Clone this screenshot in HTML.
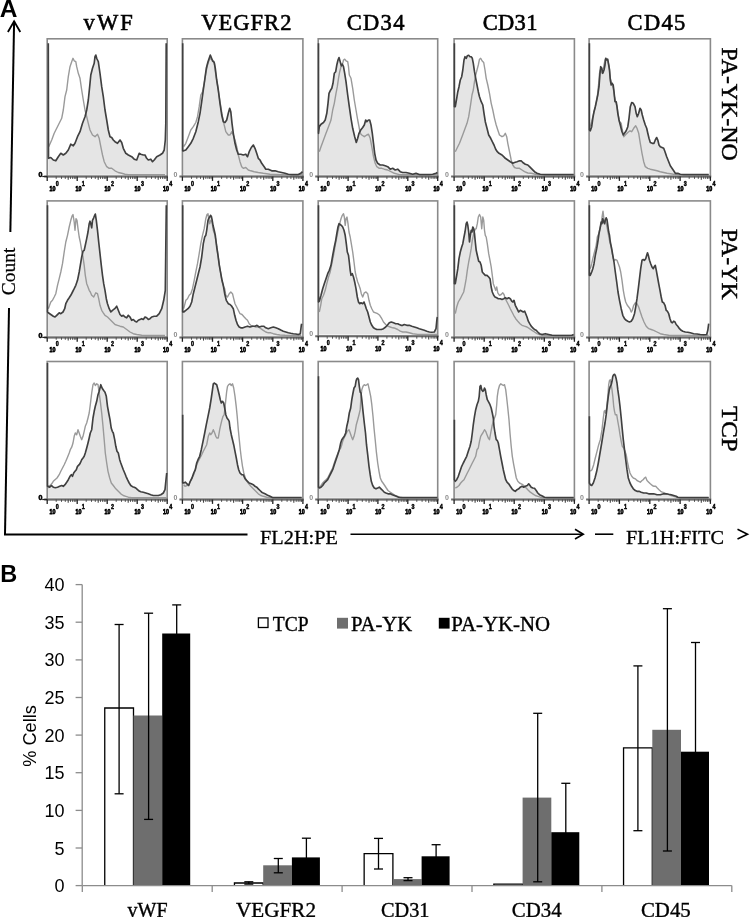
<!DOCTYPE html><html><head><meta charset="utf-8"><style>html,body{margin:0;padding:0;background:#fff;}svg{display:block;filter:grayscale(1);}.ser{font-family:"Liberation Serif",serif;}.san{font-family:"Liberation Sans",sans-serif;}.mon{font-family:"Liberation Mono",monospace;}</style></head><body>
<svg width="750" height="917" viewBox="0 0 750 917">
<text class="san" x="-0.2" y="16.7" font-size="24.5" font-weight="bold" fill="#000">A</text>
<line x1="14.1" y1="21" x2="10.36" y2="232" stroke="#000" stroke-width="2"/>
<line x1="9.01" y1="308" x2="5" y2="534.5" stroke="#000" stroke-width="2"/>
<polyline points="7.9,32 14.1,21.2 20.3,32" fill="none" stroke="#000" stroke-width="1.8"/>
<text class="ser" transform="translate(15.3,271.5) rotate(-90)" text-anchor="middle" font-size="19.5" fill="#000" stroke="#000" stroke-width="0.25">Count</text>
<line x1="4" y1="534.5" x2="247.5" y2="534.5" stroke="#000" stroke-width="2"/>
<text class="ser" x="260" y="543.8" font-size="19.5" fill="#000" stroke="#000" stroke-width="0.3" textLength="78" lengthAdjust="spacingAndGlyphs">FL2H:PE</text>
<line x1="350.5" y1="534.2" x2="583" y2="534.2" stroke="#000" stroke-width="1.6"/>
<polyline points="575,529.3 583.3,534.2 575,539" fill="none" stroke="#000" stroke-width="1.6"/>
<line x1="595" y1="534.2" x2="613.3" y2="534.2" stroke="#000" stroke-width="1.6"/>
<text class="ser" x="626" y="543.8" font-size="19.5" fill="#000" stroke="#000" stroke-width="0.3" textLength="98" lengthAdjust="spacingAndGlyphs">FL1H:FITC</text>
<polyline points="737.5,529.3 747.5,534.2 737.5,539" fill="none" stroke="#000" stroke-width="1.6"/>
<text class="ser" x="83.6" y="29.8" font-size="22.5" fill="#000" stroke="#000" stroke-width="0.6" textLength="49.2" lengthAdjust="spacing">vWF</text>
<text class="ser" x="201.2" y="29.8" font-size="22.5" fill="#000" stroke="#000" stroke-width="0.6" textLength="90.2" lengthAdjust="spacing">VEGFR2</text>
<text class="ser" x="346.8" y="29.8" font-size="22.5" fill="#000" stroke="#000" stroke-width="0.6" textLength="57.6" lengthAdjust="spacing">CD34</text>
<text class="ser" x="482.7" y="29.8" font-size="22.5" fill="#000" stroke="#000" stroke-width="0.6" textLength="54.7" lengthAdjust="spacing">CD31</text>
<text class="ser" x="627.6" y="29.8" font-size="22.5" fill="#000" stroke="#000" stroke-width="0.6" textLength="57.6" lengthAdjust="spacing">CD45</text>
<text class="ser" transform="translate(721.5,104.1) rotate(90)" text-anchor="middle" font-size="23.5" fill="#000" stroke="#000" stroke-width="0.45" textLength="113.0" lengthAdjust="spacingAndGlyphs">PA-YK-NO</text>
<text class="ser" transform="translate(721.5,264.2) rotate(90)" text-anchor="middle" font-size="23.5" fill="#000" stroke="#000" stroke-width="0.45" textLength="70.9" lengthAdjust="spacingAndGlyphs">PA-YK</text>
<text class="ser" transform="translate(721.5,428.8) rotate(90)" text-anchor="middle" font-size="23.5" fill="#000" stroke="#000" stroke-width="0.45" textLength="45.6" lengthAdjust="spacingAndGlyphs">TCP</text>
<polygon points="48.3,174.8 48.3,43.3 48.5,158.3 50.8,157.5 53.3,160.0 55.8,160.8 58.3,156.7 60.8,153.3 63.3,155.0 65.8,153.3 68.3,150.0 70.8,144.2 73.3,145.8 75.0,143.3 77.5,136.7 80.0,131.7 82.5,123.3 85.0,116.7 86.7,110.0 88.3,100.0 90.0,83.3 90.8,75.0 92.5,68.3 94.2,63.3 95.0,56.7 95.8,55.0 96.7,58.3 97.5,60.0 98.3,61.7 100.0,73.3 101.7,86.7 103.3,96.7 105.0,110.0 106.7,120.0 108.3,130.0 110.0,136.7 111.7,137.5 113.3,140.0 115.0,141.7 117.5,143.3 120.0,140.0 121.7,142.5 123.3,148.3 125.8,153.3 128.3,155.0 131.7,156.7 134.2,159.2 136.7,160.0 139.2,153.3 140.8,154.2 143.3,155.0 145.0,155.0 146.7,158.3 148.3,160.0 150.8,159.2 152.5,161.7 154.2,160.0 156.7,156.7 160.0,155.0 162.5,153.3 164.2,150.0 165.3,140.0 165.8,123.3 166.2,43.3 166.2,174.8" fill="#e5e5e5"/>
<rect x="47.2" y="38.8" width="120.0" height="137.7" fill="none" stroke="#8a8a8a" stroke-width="1.6"/>
<polyline points="48.7,146.7 51.7,140.0 54.2,133.3 56.7,128.3 59.2,123.3 61.7,118.3 63.3,110.0 65.0,96.7 66.7,90.0 68.3,76.7 70.0,66.7 71.7,61.7 73.0,58.3 74.2,60.8 75.8,61.7 76.7,66.7 78.3,73.3 80.0,78.3 81.7,90.0 83.3,100.0 85.0,110.0 86.7,116.7 88.3,123.3 90.0,130.0 92.5,135.0 95.0,136.7 97.5,134.2 99.2,138.3 100.8,146.7 102.5,155.0 104.2,161.7 106.7,166.7 109.2,168.3 111.7,168.3 115.0,170.8 118.3,172.5 121.7,173.3 125.0,174.2 128.3,174.6 131.7,174.6 138.3,174.6 148.3,174.6 165.0,174.6" fill="none" stroke="#9a9a9a" stroke-width="1.4" stroke-linejoin="round"/>
<polyline points="48.3,43.3 48.5,158.3 50.8,157.5 53.3,160.0 55.8,160.8 58.3,156.7 60.8,153.3 63.3,155.0 65.8,153.3 68.3,150.0 70.8,144.2 73.3,145.8 75.0,143.3 77.5,136.7 80.0,131.7 82.5,123.3 85.0,116.7 86.7,110.0 88.3,100.0 90.0,83.3 90.8,75.0 92.5,68.3 94.2,63.3 95.0,56.7 95.8,55.0 96.7,58.3 97.5,60.0 98.3,61.7 100.0,73.3 101.7,86.7 103.3,96.7 105.0,110.0 106.7,120.0 108.3,130.0 110.0,136.7 111.7,137.5 113.3,140.0 115.0,141.7 117.5,143.3 120.0,140.0 121.7,142.5 123.3,148.3 125.8,153.3 128.3,155.0 131.7,156.7 134.2,159.2 136.7,160.0 139.2,153.3 140.8,154.2 143.3,155.0 145.0,155.0 146.7,158.3 148.3,160.0 150.8,159.2 152.5,161.7 154.2,160.0 156.7,156.7 160.0,155.0 162.5,153.3 164.2,150.0 165.3,140.0 165.8,123.3 166.2,43.3" fill="none" stroke="#404040" stroke-width="1.65" stroke-linejoin="round"/>
<line x1="44.2" y1="176.5" x2="168.0" y2="176.5" stroke="#6a6a6a" stroke-width="2"/>
<line x1="47.2" y1="176.5" x2="47.2" y2="180.9" stroke="#222" stroke-width="1.3"/>
<line x1="56.2" y1="176.5" x2="56.2" y2="178.9" stroke="#444" stroke-width="0.9"/>
<line x1="61.5" y1="176.5" x2="61.5" y2="178.9" stroke="#444" stroke-width="0.9"/>
<line x1="65.3" y1="176.5" x2="65.3" y2="178.9" stroke="#444" stroke-width="0.9"/>
<line x1="68.2" y1="176.5" x2="68.2" y2="179.7" stroke="#444" stroke-width="1.1"/>
<line x1="70.5" y1="176.5" x2="70.5" y2="178.9" stroke="#444" stroke-width="0.9"/>
<line x1="72.6" y1="176.5" x2="72.6" y2="178.9" stroke="#444" stroke-width="0.9"/>
<line x1="74.3" y1="176.5" x2="74.3" y2="178.9" stroke="#444" stroke-width="0.9"/>
<line x1="75.8" y1="176.5" x2="75.8" y2="178.9" stroke="#444" stroke-width="0.9"/>
<line x1="77.2" y1="176.5" x2="77.2" y2="180.9" stroke="#222" stroke-width="1.3"/>
<line x1="86.2" y1="176.5" x2="86.2" y2="178.9" stroke="#444" stroke-width="0.9"/>
<line x1="91.5" y1="176.5" x2="91.5" y2="178.9" stroke="#444" stroke-width="0.9"/>
<line x1="95.3" y1="176.5" x2="95.3" y2="178.9" stroke="#444" stroke-width="0.9"/>
<line x1="98.2" y1="176.5" x2="98.2" y2="179.7" stroke="#444" stroke-width="1.1"/>
<line x1="100.5" y1="176.5" x2="100.5" y2="178.9" stroke="#444" stroke-width="0.9"/>
<line x1="102.6" y1="176.5" x2="102.6" y2="178.9" stroke="#444" stroke-width="0.9"/>
<line x1="104.3" y1="176.5" x2="104.3" y2="178.9" stroke="#444" stroke-width="0.9"/>
<line x1="105.8" y1="176.5" x2="105.8" y2="178.9" stroke="#444" stroke-width="0.9"/>
<line x1="107.2" y1="176.5" x2="107.2" y2="180.9" stroke="#222" stroke-width="1.3"/>
<line x1="116.2" y1="176.5" x2="116.2" y2="178.9" stroke="#444" stroke-width="0.9"/>
<line x1="121.5" y1="176.5" x2="121.5" y2="178.9" stroke="#444" stroke-width="0.9"/>
<line x1="125.3" y1="176.5" x2="125.3" y2="178.9" stroke="#444" stroke-width="0.9"/>
<line x1="128.2" y1="176.5" x2="128.2" y2="179.7" stroke="#444" stroke-width="1.1"/>
<line x1="130.5" y1="176.5" x2="130.5" y2="178.9" stroke="#444" stroke-width="0.9"/>
<line x1="132.6" y1="176.5" x2="132.6" y2="178.9" stroke="#444" stroke-width="0.9"/>
<line x1="134.3" y1="176.5" x2="134.3" y2="178.9" stroke="#444" stroke-width="0.9"/>
<line x1="135.8" y1="176.5" x2="135.8" y2="178.9" stroke="#444" stroke-width="0.9"/>
<line x1="137.2" y1="176.5" x2="137.2" y2="180.9" stroke="#222" stroke-width="1.3"/>
<line x1="146.2" y1="176.5" x2="146.2" y2="178.9" stroke="#444" stroke-width="0.9"/>
<line x1="151.5" y1="176.5" x2="151.5" y2="178.9" stroke="#444" stroke-width="0.9"/>
<line x1="155.3" y1="176.5" x2="155.3" y2="178.9" stroke="#444" stroke-width="0.9"/>
<line x1="158.2" y1="176.5" x2="158.2" y2="179.7" stroke="#444" stroke-width="1.1"/>
<line x1="160.5" y1="176.5" x2="160.5" y2="178.9" stroke="#444" stroke-width="0.9"/>
<line x1="162.6" y1="176.5" x2="162.6" y2="178.9" stroke="#444" stroke-width="0.9"/>
<line x1="164.3" y1="176.5" x2="164.3" y2="178.9" stroke="#444" stroke-width="0.9"/>
<line x1="165.8" y1="176.5" x2="165.8" y2="178.9" stroke="#444" stroke-width="0.9"/>
<line x1="167.2" y1="176.5" x2="167.2" y2="180.9" stroke="#222" stroke-width="1.3"/>
<text class="san" x="49.4" y="190.7" font-size="7.6" font-weight="bold" fill="#000" stroke="#000" stroke-width="0.75" textLength="6.0" lengthAdjust="spacingAndGlyphs">10</text>
<text class="san" x="55.7" y="185.5" font-size="6.8" font-weight="bold" fill="#000" stroke="#000" stroke-width="0.5" textLength="3.0" lengthAdjust="spacingAndGlyphs">0</text>
<text class="san" x="75.4" y="190.7" font-size="7.6" font-weight="bold" fill="#000" stroke="#000" stroke-width="0.75" textLength="6.0" lengthAdjust="spacingAndGlyphs">10</text>
<text class="san" x="81.7" y="185.5" font-size="6.8" font-weight="bold" fill="#000" stroke="#000" stroke-width="0.5" textLength="3.0" lengthAdjust="spacingAndGlyphs">1</text>
<text class="san" x="104.6" y="190.7" font-size="7.6" font-weight="bold" fill="#000" stroke="#000" stroke-width="0.75" textLength="6.0" lengthAdjust="spacingAndGlyphs">10</text>
<text class="san" x="110.9" y="185.5" font-size="6.8" font-weight="bold" fill="#000" stroke="#000" stroke-width="0.5" textLength="3.0" lengthAdjust="spacingAndGlyphs">2</text>
<text class="san" x="134.6" y="190.7" font-size="7.6" font-weight="bold" fill="#000" stroke="#000" stroke-width="0.75" textLength="6.0" lengthAdjust="spacingAndGlyphs">10</text>
<text class="san" x="140.9" y="185.5" font-size="6.8" font-weight="bold" fill="#000" stroke="#000" stroke-width="0.5" textLength="3.0" lengthAdjust="spacingAndGlyphs">3</text>
<text class="san" x="163.0" y="190.7" font-size="7.6" font-weight="bold" fill="#000" stroke="#000" stroke-width="0.75" textLength="6.0" lengthAdjust="spacingAndGlyphs">10</text>
<text class="san" x="169.3" y="185.5" font-size="6.8" font-weight="bold" fill="#000" stroke="#000" stroke-width="0.5" textLength="3.0" lengthAdjust="spacingAndGlyphs">4</text>
<text class="san" x="38.400000000000006" y="176.9" font-size="7" font-weight="bold" fill="#000" stroke="#000" stroke-width="0.6">0</text>
<line x1="42.2" y1="176.5" x2="47.2" y2="176.5" stroke="#222" stroke-width="1.2"/>
<polygon points="182.7,174.8 182.7,43.3 182.7,150.8 183.7,150.8 185.8,150.0 188.3,146.7 190.8,143.3 193.3,138.3 195.8,131.7 198.3,121.7 200.0,113.3 201.7,101.7 203.3,90.0 204.7,80.0 206.3,68.3 208.0,61.7 209.2,58.3 210.3,55.0 211.3,57.5 212.5,60.8 214.2,62.5 215.3,68.3 216.7,80.0 218.3,90.0 220.0,103.3 221.7,115.0 223.3,121.7 225.0,122.5 226.7,120.0 228.3,113.3 229.7,108.3 230.8,111.7 232.0,123.3 233.3,133.3 235.0,143.3 236.7,150.0 238.3,154.2 240.8,154.2 243.3,155.0 245.8,154.2 247.5,156.7 249.2,151.7 251.3,147.5 253.3,145.0 255.0,148.3 256.7,153.3 258.3,158.3 260.0,160.0 261.7,163.3 264.2,166.7 265.8,169.2 268.3,169.2 271.7,170.8 275.0,170.8 278.3,171.7 281.7,172.5 285.0,173.3 288.3,174.2 291.7,174.8 295.0,174.8 298.3,174.8 300.8,173.3 302.5,171.7 302.5,174.8" fill="#e5e5e5"/>
<rect x="182.4" y="38.8" width="120.5" height="137.7" fill="none" stroke="#8a8a8a" stroke-width="1.6"/>
<polyline points="183.7,146.7 185.8,143.3 188.3,136.7 190.8,130.0 193.3,126.7 195.8,122.5 197.5,116.7 199.2,106.7 200.8,95.0 202.5,91.7 204.2,83.3 205.8,73.3 207.5,65.0 209.2,60.0 210.8,58.3 212.5,60.0 214.2,61.7 215.0,68.3 215.8,75.0 217.5,85.0 219.2,96.7 220.8,106.7 222.5,116.7 224.2,125.0 225.8,131.7 228.3,135.0 230.0,135.0 231.7,131.7 233.3,135.0 235.0,140.0 236.7,146.7 238.3,155.0 240.0,161.7 241.7,166.7 243.3,168.3 245.8,167.5 248.3,170.0 250.8,170.8 254.2,171.7 258.3,172.5 263.3,173.3 270.0,174.2 280.0,174.6 290.0,174.6 302.5,174.6" fill="none" stroke="#9a9a9a" stroke-width="1.4" stroke-linejoin="round"/>
<polyline points="182.7,43.3 182.7,150.8 183.7,150.8 185.8,150.0 188.3,146.7 190.8,143.3 193.3,138.3 195.8,131.7 198.3,121.7 200.0,113.3 201.7,101.7 203.3,90.0 204.7,80.0 206.3,68.3 208.0,61.7 209.2,58.3 210.3,55.0 211.3,57.5 212.5,60.8 214.2,62.5 215.3,68.3 216.7,80.0 218.3,90.0 220.0,103.3 221.7,115.0 223.3,121.7 225.0,122.5 226.7,120.0 228.3,113.3 229.7,108.3 230.8,111.7 232.0,123.3 233.3,133.3 235.0,143.3 236.7,150.0 238.3,154.2 240.8,154.2 243.3,155.0 245.8,154.2 247.5,156.7 249.2,151.7 251.3,147.5 253.3,145.0 255.0,148.3 256.7,153.3 258.3,158.3 260.0,160.0 261.7,163.3 264.2,166.7 265.8,169.2 268.3,169.2 271.7,170.8 275.0,170.8 278.3,171.7 281.7,172.5 285.0,173.3 288.3,174.2 291.7,174.6 295.0,174.6 298.3,174.6 300.8,173.3 302.5,171.7" fill="none" stroke="#404040" stroke-width="1.65" stroke-linejoin="round"/>
<line x1="179.4" y1="176.5" x2="303.7" y2="176.5" stroke="#6a6a6a" stroke-width="2"/>
<line x1="182.4" y1="176.5" x2="182.4" y2="180.9" stroke="#222" stroke-width="1.3"/>
<line x1="191.5" y1="176.5" x2="191.5" y2="178.9" stroke="#444" stroke-width="0.9"/>
<line x1="196.8" y1="176.5" x2="196.8" y2="178.9" stroke="#444" stroke-width="0.9"/>
<line x1="200.5" y1="176.5" x2="200.5" y2="178.9" stroke="#444" stroke-width="0.9"/>
<line x1="203.5" y1="176.5" x2="203.5" y2="179.7" stroke="#444" stroke-width="1.1"/>
<line x1="205.8" y1="176.5" x2="205.8" y2="178.9" stroke="#444" stroke-width="0.9"/>
<line x1="207.9" y1="176.5" x2="207.9" y2="178.9" stroke="#444" stroke-width="0.9"/>
<line x1="209.6" y1="176.5" x2="209.6" y2="178.9" stroke="#444" stroke-width="0.9"/>
<line x1="211.1" y1="176.5" x2="211.1" y2="178.9" stroke="#444" stroke-width="0.9"/>
<line x1="212.5" y1="176.5" x2="212.5" y2="180.9" stroke="#222" stroke-width="1.3"/>
<line x1="221.6" y1="176.5" x2="221.6" y2="178.9" stroke="#444" stroke-width="0.9"/>
<line x1="226.9" y1="176.5" x2="226.9" y2="178.9" stroke="#444" stroke-width="0.9"/>
<line x1="230.7" y1="176.5" x2="230.7" y2="178.9" stroke="#444" stroke-width="0.9"/>
<line x1="233.6" y1="176.5" x2="233.6" y2="179.7" stroke="#444" stroke-width="1.1"/>
<line x1="236.0" y1="176.5" x2="236.0" y2="178.9" stroke="#444" stroke-width="0.9"/>
<line x1="238.0" y1="176.5" x2="238.0" y2="178.9" stroke="#444" stroke-width="0.9"/>
<line x1="239.7" y1="176.5" x2="239.7" y2="178.9" stroke="#444" stroke-width="0.9"/>
<line x1="241.3" y1="176.5" x2="241.3" y2="178.9" stroke="#444" stroke-width="0.9"/>
<line x1="242.6" y1="176.5" x2="242.6" y2="180.9" stroke="#222" stroke-width="1.3"/>
<line x1="251.7" y1="176.5" x2="251.7" y2="178.9" stroke="#444" stroke-width="0.9"/>
<line x1="257.0" y1="176.5" x2="257.0" y2="178.9" stroke="#444" stroke-width="0.9"/>
<line x1="260.8" y1="176.5" x2="260.8" y2="178.9" stroke="#444" stroke-width="0.9"/>
<line x1="263.7" y1="176.5" x2="263.7" y2="179.7" stroke="#444" stroke-width="1.1"/>
<line x1="266.1" y1="176.5" x2="266.1" y2="178.9" stroke="#444" stroke-width="0.9"/>
<line x1="268.1" y1="176.5" x2="268.1" y2="178.9" stroke="#444" stroke-width="0.9"/>
<line x1="269.9" y1="176.5" x2="269.9" y2="178.9" stroke="#444" stroke-width="0.9"/>
<line x1="271.4" y1="176.5" x2="271.4" y2="178.9" stroke="#444" stroke-width="0.9"/>
<line x1="272.8" y1="176.5" x2="272.8" y2="180.9" stroke="#222" stroke-width="1.3"/>
<line x1="281.8" y1="176.5" x2="281.8" y2="178.9" stroke="#444" stroke-width="0.9"/>
<line x1="287.1" y1="176.5" x2="287.1" y2="178.9" stroke="#444" stroke-width="0.9"/>
<line x1="290.9" y1="176.5" x2="290.9" y2="178.9" stroke="#444" stroke-width="0.9"/>
<line x1="293.8" y1="176.5" x2="293.8" y2="179.7" stroke="#444" stroke-width="1.1"/>
<line x1="296.2" y1="176.5" x2="296.2" y2="178.9" stroke="#444" stroke-width="0.9"/>
<line x1="298.2" y1="176.5" x2="298.2" y2="178.9" stroke="#444" stroke-width="0.9"/>
<line x1="300.0" y1="176.5" x2="300.0" y2="178.9" stroke="#444" stroke-width="0.9"/>
<line x1="301.5" y1="176.5" x2="301.5" y2="178.9" stroke="#444" stroke-width="0.9"/>
<line x1="302.9" y1="176.5" x2="302.9" y2="180.9" stroke="#222" stroke-width="1.3"/>
<text class="san" x="184.6" y="190.7" font-size="7.6" font-weight="bold" fill="#000" stroke="#000" stroke-width="0.75" textLength="6.0" lengthAdjust="spacingAndGlyphs">10</text>
<text class="san" x="190.9" y="185.5" font-size="6.8" font-weight="bold" fill="#000" stroke="#000" stroke-width="0.5" textLength="3.0" lengthAdjust="spacingAndGlyphs">0</text>
<text class="san" x="210.7" y="190.7" font-size="7.6" font-weight="bold" fill="#000" stroke="#000" stroke-width="0.75" textLength="6.0" lengthAdjust="spacingAndGlyphs">10</text>
<text class="san" x="217.0" y="185.5" font-size="6.8" font-weight="bold" fill="#000" stroke="#000" stroke-width="0.5" textLength="3.0" lengthAdjust="spacingAndGlyphs">1</text>
<text class="san" x="240.0" y="190.7" font-size="7.6" font-weight="bold" fill="#000" stroke="#000" stroke-width="0.75" textLength="6.0" lengthAdjust="spacingAndGlyphs">10</text>
<text class="san" x="246.3" y="185.5" font-size="6.8" font-weight="bold" fill="#000" stroke="#000" stroke-width="0.5" textLength="3.0" lengthAdjust="spacingAndGlyphs">2</text>
<text class="san" x="270.2" y="190.7" font-size="7.6" font-weight="bold" fill="#000" stroke="#000" stroke-width="0.75" textLength="6.0" lengthAdjust="spacingAndGlyphs">10</text>
<text class="san" x="276.5" y="185.5" font-size="6.8" font-weight="bold" fill="#000" stroke="#000" stroke-width="0.5" textLength="3.0" lengthAdjust="spacingAndGlyphs">3</text>
<text class="san" x="298.7" y="190.7" font-size="7.6" font-weight="bold" fill="#000" stroke="#000" stroke-width="0.75" textLength="6.0" lengthAdjust="spacingAndGlyphs">10</text>
<text class="san" x="305.0" y="185.5" font-size="6.8" font-weight="bold" fill="#000" stroke="#000" stroke-width="0.5" textLength="3.0" lengthAdjust="spacingAndGlyphs">4</text>
<text class="san" x="173.4" y="176.5" font-size="7" font-weight="bold" fill="#8c8c8c">0</text>
<polygon points="318.5,174.8 318.5,43.3 318.5,133.3 319.3,126.7 321.0,124.2 323.5,122.5 325.2,120.0 326.8,113.3 328.0,103.3 329.0,93.3 330.2,90.8 331.8,88.3 333.0,83.3 334.3,73.3 335.7,71.7 336.8,65.0 338.0,60.0 339.0,57.5 340.2,61.7 341.3,65.8 342.3,64.2 343.5,66.7 344.7,73.3 346.0,81.7 347.7,95.0 349.3,106.7 351.0,118.3 352.7,128.3 354.7,136.7 356.3,142.5 357.7,138.3 359.0,133.3 360.7,130.0 362.7,127.5 364.3,125.0 365.7,120.0 366.8,121.7 368.5,120.0 369.7,120.0 371.0,125.0 372.3,133.3 373.5,143.3 374.7,153.3 376.0,160.0 377.7,163.3 380.2,165.0 382.7,165.0 385.2,165.8 387.7,166.7 390.2,169.2 392.7,168.3 395.2,170.0 397.7,169.2 400.2,171.7 402.7,172.5 406.0,172.5 409.3,173.3 412.7,174.2 416.0,173.3 419.3,174.7 422.7,174.8 426.0,174.8 429.3,174.7 432.7,174.2 436.0,173.3 437.4,172.5 437.4,174.8" fill="#e5e5e5"/>
<rect x="318.2" y="38.8" width="119.5" height="137.7" fill="none" stroke="#8a8a8a" stroke-width="1.6"/>
<polyline points="319.3,151.7 321.0,146.7 323.5,140.0 326.0,133.3 328.5,126.7 331.0,120.0 332.7,110.0 334.3,103.3 336.0,93.3 337.3,86.7 338.5,78.3 339.7,71.7 341.0,66.7 342.7,63.3 343.5,60.0 344.7,59.2 346.0,60.8 347.7,61.7 348.5,66.7 349.3,75.0 351.0,78.3 352.7,88.3 354.3,100.0 356.0,110.0 357.7,120.0 359.0,126.7 360.2,133.3 361.8,135.0 364.3,136.7 366.8,135.0 368.5,134.2 370.2,138.3 371.8,146.7 373.5,156.7 375.2,163.3 376.8,166.7 379.3,168.3 381.8,168.3 384.3,169.2 387.7,170.0 391.0,171.7 394.3,173.3 399.3,174.6 407.7,174.6 416.0,174.6 424.3,174.6 432.7,174.6 437.4,174.6" fill="none" stroke="#9a9a9a" stroke-width="1.4" stroke-linejoin="round"/>
<polyline points="318.5,43.3 318.5,133.3 319.3,126.7 321.0,124.2 323.5,122.5 325.2,120.0 326.8,113.3 328.0,103.3 329.0,93.3 330.2,90.8 331.8,88.3 333.0,83.3 334.3,73.3 335.7,71.7 336.8,65.0 338.0,60.0 339.0,57.5 340.2,61.7 341.3,65.8 342.3,64.2 343.5,66.7 344.7,73.3 346.0,81.7 347.7,95.0 349.3,106.7 351.0,118.3 352.7,128.3 354.7,136.7 356.3,142.5 357.7,138.3 359.0,133.3 360.7,130.0 362.7,127.5 364.3,125.0 365.7,120.0 366.8,121.7 368.5,120.0 369.7,120.0 371.0,125.0 372.3,133.3 373.5,143.3 374.7,153.3 376.0,160.0 377.7,163.3 380.2,165.0 382.7,165.0 385.2,165.8 387.7,166.7 390.2,169.2 392.7,168.3 395.2,170.0 397.7,169.2 400.2,171.7 402.7,172.5 406.0,172.5 409.3,173.3 412.7,174.2 416.0,173.3 419.3,174.6 422.7,174.6 426.0,174.6 429.3,174.6 432.7,174.2 436.0,173.3 437.4,172.5" fill="none" stroke="#404040" stroke-width="1.65" stroke-linejoin="round"/>
<line x1="315.2" y1="176.5" x2="438.5" y2="176.5" stroke="#6a6a6a" stroke-width="2"/>
<line x1="318.2" y1="176.5" x2="318.2" y2="180.9" stroke="#222" stroke-width="1.3"/>
<line x1="327.2" y1="176.5" x2="327.2" y2="178.9" stroke="#444" stroke-width="0.9"/>
<line x1="332.5" y1="176.5" x2="332.5" y2="178.9" stroke="#444" stroke-width="0.9"/>
<line x1="336.2" y1="176.5" x2="336.2" y2="178.9" stroke="#444" stroke-width="0.9"/>
<line x1="339.1" y1="176.5" x2="339.1" y2="179.7" stroke="#444" stroke-width="1.1"/>
<line x1="341.4" y1="176.5" x2="341.4" y2="178.9" stroke="#444" stroke-width="0.9"/>
<line x1="343.4" y1="176.5" x2="343.4" y2="178.9" stroke="#444" stroke-width="0.9"/>
<line x1="345.2" y1="176.5" x2="345.2" y2="178.9" stroke="#444" stroke-width="0.9"/>
<line x1="346.7" y1="176.5" x2="346.7" y2="178.9" stroke="#444" stroke-width="0.9"/>
<line x1="348.1" y1="176.5" x2="348.1" y2="180.9" stroke="#222" stroke-width="1.3"/>
<line x1="357.1" y1="176.5" x2="357.1" y2="178.9" stroke="#444" stroke-width="0.9"/>
<line x1="362.3" y1="176.5" x2="362.3" y2="178.9" stroke="#444" stroke-width="0.9"/>
<line x1="366.1" y1="176.5" x2="366.1" y2="178.9" stroke="#444" stroke-width="0.9"/>
<line x1="369.0" y1="176.5" x2="369.0" y2="179.7" stroke="#444" stroke-width="1.1"/>
<line x1="371.3" y1="176.5" x2="371.3" y2="178.9" stroke="#444" stroke-width="0.9"/>
<line x1="373.3" y1="176.5" x2="373.3" y2="178.9" stroke="#444" stroke-width="0.9"/>
<line x1="375.1" y1="176.5" x2="375.1" y2="178.9" stroke="#444" stroke-width="0.9"/>
<line x1="376.6" y1="176.5" x2="376.6" y2="178.9" stroke="#444" stroke-width="0.9"/>
<line x1="377.9" y1="176.5" x2="377.9" y2="180.9" stroke="#222" stroke-width="1.3"/>
<line x1="386.9" y1="176.5" x2="386.9" y2="178.9" stroke="#444" stroke-width="0.9"/>
<line x1="392.2" y1="176.5" x2="392.2" y2="178.9" stroke="#444" stroke-width="0.9"/>
<line x1="395.9" y1="176.5" x2="395.9" y2="178.9" stroke="#444" stroke-width="0.9"/>
<line x1="398.8" y1="176.5" x2="398.8" y2="179.7" stroke="#444" stroke-width="1.1"/>
<line x1="401.2" y1="176.5" x2="401.2" y2="178.9" stroke="#444" stroke-width="0.9"/>
<line x1="403.2" y1="176.5" x2="403.2" y2="178.9" stroke="#444" stroke-width="0.9"/>
<line x1="404.9" y1="176.5" x2="404.9" y2="178.9" stroke="#444" stroke-width="0.9"/>
<line x1="406.5" y1="176.5" x2="406.5" y2="178.9" stroke="#444" stroke-width="0.9"/>
<line x1="407.8" y1="176.5" x2="407.8" y2="180.9" stroke="#222" stroke-width="1.3"/>
<line x1="416.8" y1="176.5" x2="416.8" y2="178.9" stroke="#444" stroke-width="0.9"/>
<line x1="422.1" y1="176.5" x2="422.1" y2="178.9" stroke="#444" stroke-width="0.9"/>
<line x1="425.8" y1="176.5" x2="425.8" y2="178.9" stroke="#444" stroke-width="0.9"/>
<line x1="428.7" y1="176.5" x2="428.7" y2="179.7" stroke="#444" stroke-width="1.1"/>
<line x1="431.1" y1="176.5" x2="431.1" y2="178.9" stroke="#444" stroke-width="0.9"/>
<line x1="433.1" y1="176.5" x2="433.1" y2="178.9" stroke="#444" stroke-width="0.9"/>
<line x1="434.8" y1="176.5" x2="434.8" y2="178.9" stroke="#444" stroke-width="0.9"/>
<line x1="436.3" y1="176.5" x2="436.3" y2="178.9" stroke="#444" stroke-width="0.9"/>
<line x1="437.7" y1="176.5" x2="437.7" y2="180.9" stroke="#222" stroke-width="1.3"/>
<text class="san" x="320.4" y="190.7" font-size="7.6" font-weight="bold" fill="#000" stroke="#000" stroke-width="0.75" textLength="6.0" lengthAdjust="spacingAndGlyphs">10</text>
<text class="san" x="326.7" y="185.5" font-size="6.8" font-weight="bold" fill="#000" stroke="#000" stroke-width="0.5" textLength="3.0" lengthAdjust="spacingAndGlyphs">0</text>
<text class="san" x="346.3" y="190.7" font-size="7.6" font-weight="bold" fill="#000" stroke="#000" stroke-width="0.75" textLength="6.0" lengthAdjust="spacingAndGlyphs">10</text>
<text class="san" x="352.6" y="185.5" font-size="6.8" font-weight="bold" fill="#000" stroke="#000" stroke-width="0.5" textLength="3.0" lengthAdjust="spacingAndGlyphs">1</text>
<text class="san" x="375.3" y="190.7" font-size="7.6" font-weight="bold" fill="#000" stroke="#000" stroke-width="0.75" textLength="6.0" lengthAdjust="spacingAndGlyphs">10</text>
<text class="san" x="381.6" y="185.5" font-size="6.8" font-weight="bold" fill="#000" stroke="#000" stroke-width="0.5" textLength="3.0" lengthAdjust="spacingAndGlyphs">2</text>
<text class="san" x="405.2" y="190.7" font-size="7.6" font-weight="bold" fill="#000" stroke="#000" stroke-width="0.75" textLength="6.0" lengthAdjust="spacingAndGlyphs">10</text>
<text class="san" x="411.5" y="185.5" font-size="6.8" font-weight="bold" fill="#000" stroke="#000" stroke-width="0.5" textLength="3.0" lengthAdjust="spacingAndGlyphs">3</text>
<text class="san" x="433.5" y="190.7" font-size="7.6" font-weight="bold" fill="#000" stroke="#000" stroke-width="0.75" textLength="6.0" lengthAdjust="spacingAndGlyphs">10</text>
<text class="san" x="439.8" y="185.5" font-size="6.8" font-weight="bold" fill="#000" stroke="#000" stroke-width="0.5" textLength="3.0" lengthAdjust="spacingAndGlyphs">4</text>
<text class="san" x="309.2" y="176.5" font-size="7" font-weight="bold" fill="#8c8c8c">0</text>
<polygon points="454.4,174.8 454.4,43.3 454.4,106.7 455.3,106.7 456.7,98.3 457.8,91.7 459.0,86.7 460.3,80.0 461.7,76.7 462.8,70.0 464.0,60.0 465.0,56.7 466.2,58.3 467.3,55.8 468.7,55.3 470.0,56.7 471.2,56.7 472.3,58.3 473.3,63.3 474.5,71.7 475.7,78.3 477.0,85.0 478.3,91.7 479.5,96.7 481.2,101.7 482.8,105.0 484.0,113.3 485.3,121.7 487.0,128.3 488.7,135.0 490.7,138.3 492.3,141.7 494.0,145.0 495.7,149.2 497.3,151.7 499.0,153.3 500.7,154.2 502.0,155.0 503.7,156.7 505.3,158.3 507.8,160.0 510.3,161.7 512.8,163.3 514.5,162.5 517.0,161.7 519.5,160.8 521.2,160.8 522.8,162.5 525.3,164.2 527.8,165.0 529.5,166.7 532.0,169.2 534.5,171.7 537.0,173.3 540.3,174.2 545.3,174.8 552.0,174.8 560.3,174.8 568.7,174.8 573.7,174.8 573.7,174.8" fill="#e5e5e5"/>
<rect x="454.1" y="38.8" width="120.3" height="137.7" fill="none" stroke="#8a8a8a" stroke-width="1.6"/>
<polyline points="455.3,151.7 457.0,148.3 459.5,143.3 462.0,136.7 464.5,130.0 467.0,123.3 468.7,116.7 470.3,106.7 472.0,95.0 473.3,90.0 474.5,81.7 475.7,75.0 477.0,70.0 478.3,65.0 479.5,59.2 480.7,58.3 482.0,60.8 483.7,62.5 485.0,70.0 486.2,78.3 487.8,85.0 489.5,93.3 491.2,103.3 492.8,110.0 494.5,118.3 496.2,125.0 497.8,130.0 499.5,135.0 502.0,136.7 503.7,135.8 505.3,133.3 506.7,136.7 507.8,143.3 509.5,151.7 511.2,160.0 512.8,165.0 514.5,167.5 517.0,168.3 519.5,168.3 522.0,170.0 524.5,171.7 527.8,173.0 531.2,173.3 535.3,174.2 540.3,174.6 547.0,174.6 555.3,174.6 565.3,174.6 573.7,174.6" fill="none" stroke="#9a9a9a" stroke-width="1.4" stroke-linejoin="round"/>
<polyline points="454.4,43.3 454.4,106.7 455.3,106.7 456.7,98.3 457.8,91.7 459.0,86.7 460.3,80.0 461.7,76.7 462.8,70.0 464.0,60.0 465.0,56.7 466.2,58.3 467.3,55.8 468.7,55.3 470.0,56.7 471.2,56.7 472.3,58.3 473.3,63.3 474.5,71.7 475.7,78.3 477.0,85.0 478.3,91.7 479.5,96.7 481.2,101.7 482.8,105.0 484.0,113.3 485.3,121.7 487.0,128.3 488.7,135.0 490.7,138.3 492.3,141.7 494.0,145.0 495.7,149.2 497.3,151.7 499.0,153.3 500.7,154.2 502.0,155.0 503.7,156.7 505.3,158.3 507.8,160.0 510.3,161.7 512.8,163.3 514.5,162.5 517.0,161.7 519.5,160.8 521.2,160.8 522.8,162.5 525.3,164.2 527.8,165.0 529.5,166.7 532.0,169.2 534.5,171.7 537.0,173.3 540.3,174.2 545.3,174.6 552.0,174.6 560.3,174.6 568.7,174.6 573.7,174.6" fill="none" stroke="#404040" stroke-width="1.65" stroke-linejoin="round"/>
<line x1="451.1" y1="176.5" x2="575.1999999999999" y2="176.5" stroke="#6a6a6a" stroke-width="2"/>
<line x1="454.1" y1="176.5" x2="454.1" y2="180.9" stroke="#222" stroke-width="1.3"/>
<line x1="463.2" y1="176.5" x2="463.2" y2="178.9" stroke="#444" stroke-width="0.9"/>
<line x1="468.4" y1="176.5" x2="468.4" y2="178.9" stroke="#444" stroke-width="0.9"/>
<line x1="472.2" y1="176.5" x2="472.2" y2="178.9" stroke="#444" stroke-width="0.9"/>
<line x1="475.1" y1="176.5" x2="475.1" y2="179.7" stroke="#444" stroke-width="1.1"/>
<line x1="477.5" y1="176.5" x2="477.5" y2="178.9" stroke="#444" stroke-width="0.9"/>
<line x1="479.5" y1="176.5" x2="479.5" y2="178.9" stroke="#444" stroke-width="0.9"/>
<line x1="481.3" y1="176.5" x2="481.3" y2="178.9" stroke="#444" stroke-width="0.9"/>
<line x1="482.8" y1="176.5" x2="482.8" y2="178.9" stroke="#444" stroke-width="0.9"/>
<line x1="484.2" y1="176.5" x2="484.2" y2="180.9" stroke="#222" stroke-width="1.3"/>
<line x1="493.2" y1="176.5" x2="493.2" y2="178.9" stroke="#444" stroke-width="0.9"/>
<line x1="498.5" y1="176.5" x2="498.5" y2="178.9" stroke="#444" stroke-width="0.9"/>
<line x1="502.3" y1="176.5" x2="502.3" y2="178.9" stroke="#444" stroke-width="0.9"/>
<line x1="505.2" y1="176.5" x2="505.2" y2="179.7" stroke="#444" stroke-width="1.1"/>
<line x1="507.6" y1="176.5" x2="507.6" y2="178.9" stroke="#444" stroke-width="0.9"/>
<line x1="509.6" y1="176.5" x2="509.6" y2="178.9" stroke="#444" stroke-width="0.9"/>
<line x1="511.3" y1="176.5" x2="511.3" y2="178.9" stroke="#444" stroke-width="0.9"/>
<line x1="512.9" y1="176.5" x2="512.9" y2="178.9" stroke="#444" stroke-width="0.9"/>
<line x1="514.2" y1="176.5" x2="514.2" y2="180.9" stroke="#222" stroke-width="1.3"/>
<line x1="523.3" y1="176.5" x2="523.3" y2="178.9" stroke="#444" stroke-width="0.9"/>
<line x1="528.6" y1="176.5" x2="528.6" y2="178.9" stroke="#444" stroke-width="0.9"/>
<line x1="532.4" y1="176.5" x2="532.4" y2="178.9" stroke="#444" stroke-width="0.9"/>
<line x1="535.3" y1="176.5" x2="535.3" y2="179.7" stroke="#444" stroke-width="1.1"/>
<line x1="537.7" y1="176.5" x2="537.7" y2="178.9" stroke="#444" stroke-width="0.9"/>
<line x1="539.7" y1="176.5" x2="539.7" y2="178.9" stroke="#444" stroke-width="0.9"/>
<line x1="541.4" y1="176.5" x2="541.4" y2="178.9" stroke="#444" stroke-width="0.9"/>
<line x1="542.9" y1="176.5" x2="542.9" y2="178.9" stroke="#444" stroke-width="0.9"/>
<line x1="544.3" y1="176.5" x2="544.3" y2="180.9" stroke="#222" stroke-width="1.3"/>
<line x1="553.4" y1="176.5" x2="553.4" y2="178.9" stroke="#444" stroke-width="0.9"/>
<line x1="558.7" y1="176.5" x2="558.7" y2="178.9" stroke="#444" stroke-width="0.9"/>
<line x1="562.4" y1="176.5" x2="562.4" y2="178.9" stroke="#444" stroke-width="0.9"/>
<line x1="565.3" y1="176.5" x2="565.3" y2="179.7" stroke="#444" stroke-width="1.1"/>
<line x1="567.7" y1="176.5" x2="567.7" y2="178.9" stroke="#444" stroke-width="0.9"/>
<line x1="569.7" y1="176.5" x2="569.7" y2="178.9" stroke="#444" stroke-width="0.9"/>
<line x1="571.5" y1="176.5" x2="571.5" y2="178.9" stroke="#444" stroke-width="0.9"/>
<line x1="573.0" y1="176.5" x2="573.0" y2="178.9" stroke="#444" stroke-width="0.9"/>
<line x1="574.4" y1="176.5" x2="574.4" y2="180.9" stroke="#222" stroke-width="1.3"/>
<text class="san" x="456.3" y="190.7" font-size="7.6" font-weight="bold" fill="#000" stroke="#000" stroke-width="0.75" textLength="6.0" lengthAdjust="spacingAndGlyphs">10</text>
<text class="san" x="462.6" y="185.5" font-size="6.8" font-weight="bold" fill="#000" stroke="#000" stroke-width="0.5" textLength="3.0" lengthAdjust="spacingAndGlyphs">0</text>
<text class="san" x="482.4" y="190.7" font-size="7.6" font-weight="bold" fill="#000" stroke="#000" stroke-width="0.75" textLength="6.0" lengthAdjust="spacingAndGlyphs">10</text>
<text class="san" x="488.7" y="185.5" font-size="6.8" font-weight="bold" fill="#000" stroke="#000" stroke-width="0.5" textLength="3.0" lengthAdjust="spacingAndGlyphs">1</text>
<text class="san" x="511.6" y="190.7" font-size="7.6" font-weight="bold" fill="#000" stroke="#000" stroke-width="0.75" textLength="6.0" lengthAdjust="spacingAndGlyphs">10</text>
<text class="san" x="517.9" y="185.5" font-size="6.8" font-weight="bold" fill="#000" stroke="#000" stroke-width="0.5" textLength="3.0" lengthAdjust="spacingAndGlyphs">2</text>
<text class="san" x="541.7" y="190.7" font-size="7.6" font-weight="bold" fill="#000" stroke="#000" stroke-width="0.75" textLength="6.0" lengthAdjust="spacingAndGlyphs">10</text>
<text class="san" x="548.0" y="185.5" font-size="6.8" font-weight="bold" fill="#000" stroke="#000" stroke-width="0.5" textLength="3.0" lengthAdjust="spacingAndGlyphs">3</text>
<text class="san" x="570.2" y="190.7" font-size="7.6" font-weight="bold" fill="#000" stroke="#000" stroke-width="0.75" textLength="6.0" lengthAdjust="spacingAndGlyphs">10</text>
<text class="san" x="576.5" y="185.5" font-size="6.8" font-weight="bold" fill="#000" stroke="#000" stroke-width="0.5" textLength="3.0" lengthAdjust="spacingAndGlyphs">4</text>
<text class="san" x="445.1" y="176.5" font-size="7" font-weight="bold" fill="#8c8c8c">0</text>
<polygon points="589.4,174.8 589.4,43.3 589.4,130.0 590.3,130.8 591.7,126.7 592.8,118.3 594.0,111.7 595.3,106.7 596.7,100.0 597.8,95.0 599.0,86.7 600.0,73.3 600.7,66.7 601.7,68.3 602.8,73.3 604.0,70.0 605.0,65.0 605.7,58.3 606.7,60.0 607.7,59.2 608.7,65.0 609.5,70.0 610.3,80.0 611.2,85.0 612.0,83.3 613.2,85.0 614.0,91.7 615.0,101.7 616.2,101.7 617.0,106.7 617.8,113.3 619.0,120.0 620.3,125.0 622.0,131.7 623.3,135.0 624.5,133.3 626.2,130.8 627.8,126.7 629.0,118.3 630.3,106.7 631.7,102.5 633.3,103.3 635.0,106.7 636.2,113.3 637.3,116.7 638.7,113.3 640.0,108.3 641.2,110.0 642.3,115.0 643.7,120.0 645.3,125.0 646.7,128.3 647.8,133.3 649.0,138.3 650.3,142.5 652.3,143.3 654.0,143.3 655.3,140.0 656.7,137.5 657.8,140.0 659.0,145.0 660.3,146.7 662.0,147.5 663.7,148.3 665.0,151.7 666.7,156.7 668.7,161.7 670.3,165.8 672.0,168.3 673.7,170.8 675.3,173.3 677.8,173.3 680.3,174.2 683.7,174.8 690.3,174.8 700.3,174.8 708.7,174.8 708.7,174.8" fill="#e5e5e5"/>
<rect x="589.1" y="38.8" width="121.3" height="137.7" fill="none" stroke="#8a8a8a" stroke-width="1.6"/>
<polyline points="590.3,126.7 591.7,121.7 592.8,116.7 594.5,110.0 596.2,103.3 597.3,96.7 598.7,83.3 599.5,73.3 600.3,70.0 602.0,73.3 603.7,66.7 605.0,60.0 606.2,58.3 607.8,60.8 609.2,66.7 610.3,78.3 611.7,83.3 613.3,88.3 614.5,96.7 615.7,101.7 617.0,106.7 618.3,115.0 619.5,121.7 621.2,123.3 622.3,130.0 623.7,136.7 625.3,135.0 627.8,132.5 630.0,130.8 631.7,131.7 633.7,128.3 635.7,125.8 637.0,128.3 638.7,133.3 640.3,143.3 642.0,153.3 643.7,161.7 645.3,166.7 647.8,168.3 650.3,169.2 653.7,170.0 657.0,170.8 660.3,171.7 663.7,172.5 667.0,173.3 670.3,173.8 673.7,174.3 680.3,174.6 687.0,174.6 697.0,174.6 708.7,174.6" fill="none" stroke="#9a9a9a" stroke-width="1.4" stroke-linejoin="round"/>
<polyline points="589.4,43.3 589.4,130.0 590.3,130.8 591.7,126.7 592.8,118.3 594.0,111.7 595.3,106.7 596.7,100.0 597.8,95.0 599.0,86.7 600.0,73.3 600.7,66.7 601.7,68.3 602.8,73.3 604.0,70.0 605.0,65.0 605.7,58.3 606.7,60.0 607.7,59.2 608.7,65.0 609.5,70.0 610.3,80.0 611.2,85.0 612.0,83.3 613.2,85.0 614.0,91.7 615.0,101.7 616.2,101.7 617.0,106.7 617.8,113.3 619.0,120.0 620.3,125.0 622.0,131.7 623.3,135.0 624.5,133.3 626.2,130.8 627.8,126.7 629.0,118.3 630.3,106.7 631.7,102.5 633.3,103.3 635.0,106.7 636.2,113.3 637.3,116.7 638.7,113.3 640.0,108.3 641.2,110.0 642.3,115.0 643.7,120.0 645.3,125.0 646.7,128.3 647.8,133.3 649.0,138.3 650.3,142.5 652.3,143.3 654.0,143.3 655.3,140.0 656.7,137.5 657.8,140.0 659.0,145.0 660.3,146.7 662.0,147.5 663.7,148.3 665.0,151.7 666.7,156.7 668.7,161.7 670.3,165.8 672.0,168.3 673.7,170.8 675.3,173.3 677.8,173.3 680.3,174.2 683.7,174.6 690.3,174.6 700.3,174.6 708.7,174.6" fill="none" stroke="#404040" stroke-width="1.65" stroke-linejoin="round"/>
<line x1="586.1" y1="176.5" x2="711.1999999999999" y2="176.5" stroke="#6a6a6a" stroke-width="2"/>
<line x1="589.1" y1="176.5" x2="589.1" y2="180.9" stroke="#222" stroke-width="1.3"/>
<line x1="598.2" y1="176.5" x2="598.2" y2="178.9" stroke="#444" stroke-width="0.9"/>
<line x1="603.6" y1="176.5" x2="603.6" y2="178.9" stroke="#444" stroke-width="0.9"/>
<line x1="607.4" y1="176.5" x2="607.4" y2="178.9" stroke="#444" stroke-width="0.9"/>
<line x1="610.3" y1="176.5" x2="610.3" y2="179.7" stroke="#444" stroke-width="1.1"/>
<line x1="612.7" y1="176.5" x2="612.7" y2="178.9" stroke="#444" stroke-width="0.9"/>
<line x1="614.7" y1="176.5" x2="614.7" y2="178.9" stroke="#444" stroke-width="0.9"/>
<line x1="616.5" y1="176.5" x2="616.5" y2="178.9" stroke="#444" stroke-width="0.9"/>
<line x1="618.0" y1="176.5" x2="618.0" y2="178.9" stroke="#444" stroke-width="0.9"/>
<line x1="619.4" y1="176.5" x2="619.4" y2="180.9" stroke="#222" stroke-width="1.3"/>
<line x1="628.6" y1="176.5" x2="628.6" y2="178.9" stroke="#444" stroke-width="0.9"/>
<line x1="633.9" y1="176.5" x2="633.9" y2="178.9" stroke="#444" stroke-width="0.9"/>
<line x1="637.7" y1="176.5" x2="637.7" y2="178.9" stroke="#444" stroke-width="0.9"/>
<line x1="640.6" y1="176.5" x2="640.6" y2="179.7" stroke="#444" stroke-width="1.1"/>
<line x1="643.0" y1="176.5" x2="643.0" y2="178.9" stroke="#444" stroke-width="0.9"/>
<line x1="645.1" y1="176.5" x2="645.1" y2="178.9" stroke="#444" stroke-width="0.9"/>
<line x1="646.8" y1="176.5" x2="646.8" y2="178.9" stroke="#444" stroke-width="0.9"/>
<line x1="648.4" y1="176.5" x2="648.4" y2="178.9" stroke="#444" stroke-width="0.9"/>
<line x1="649.8" y1="176.5" x2="649.8" y2="180.9" stroke="#222" stroke-width="1.3"/>
<line x1="658.9" y1="176.5" x2="658.9" y2="178.9" stroke="#444" stroke-width="0.9"/>
<line x1="664.2" y1="176.5" x2="664.2" y2="178.9" stroke="#444" stroke-width="0.9"/>
<line x1="668.0" y1="176.5" x2="668.0" y2="178.9" stroke="#444" stroke-width="0.9"/>
<line x1="670.9" y1="176.5" x2="670.9" y2="179.7" stroke="#444" stroke-width="1.1"/>
<line x1="673.3" y1="176.5" x2="673.3" y2="178.9" stroke="#444" stroke-width="0.9"/>
<line x1="675.4" y1="176.5" x2="675.4" y2="178.9" stroke="#444" stroke-width="0.9"/>
<line x1="677.1" y1="176.5" x2="677.1" y2="178.9" stroke="#444" stroke-width="0.9"/>
<line x1="678.7" y1="176.5" x2="678.7" y2="178.9" stroke="#444" stroke-width="0.9"/>
<line x1="680.1" y1="176.5" x2="680.1" y2="180.9" stroke="#222" stroke-width="1.3"/>
<line x1="689.2" y1="176.5" x2="689.2" y2="178.9" stroke="#444" stroke-width="0.9"/>
<line x1="694.5" y1="176.5" x2="694.5" y2="178.9" stroke="#444" stroke-width="0.9"/>
<line x1="698.3" y1="176.5" x2="698.3" y2="178.9" stroke="#444" stroke-width="0.9"/>
<line x1="701.3" y1="176.5" x2="701.3" y2="179.7" stroke="#444" stroke-width="1.1"/>
<line x1="703.7" y1="176.5" x2="703.7" y2="178.9" stroke="#444" stroke-width="0.9"/>
<line x1="705.7" y1="176.5" x2="705.7" y2="178.9" stroke="#444" stroke-width="0.9"/>
<line x1="707.5" y1="176.5" x2="707.5" y2="178.9" stroke="#444" stroke-width="0.9"/>
<line x1="709.0" y1="176.5" x2="709.0" y2="178.9" stroke="#444" stroke-width="0.9"/>
<line x1="710.4" y1="176.5" x2="710.4" y2="180.9" stroke="#222" stroke-width="1.3"/>
<text class="san" x="591.3" y="190.7" font-size="7.6" font-weight="bold" fill="#000" stroke="#000" stroke-width="0.75" textLength="6.0" lengthAdjust="spacingAndGlyphs">10</text>
<text class="san" x="597.6" y="185.5" font-size="6.8" font-weight="bold" fill="#000" stroke="#000" stroke-width="0.5" textLength="3.0" lengthAdjust="spacingAndGlyphs">0</text>
<text class="san" x="617.6" y="190.7" font-size="7.6" font-weight="bold" fill="#000" stroke="#000" stroke-width="0.75" textLength="6.0" lengthAdjust="spacingAndGlyphs">10</text>
<text class="san" x="623.9" y="185.5" font-size="6.8" font-weight="bold" fill="#000" stroke="#000" stroke-width="0.5" textLength="3.0" lengthAdjust="spacingAndGlyphs">1</text>
<text class="san" x="647.1" y="190.7" font-size="7.6" font-weight="bold" fill="#000" stroke="#000" stroke-width="0.75" textLength="6.0" lengthAdjust="spacingAndGlyphs">10</text>
<text class="san" x="653.4" y="185.5" font-size="6.8" font-weight="bold" fill="#000" stroke="#000" stroke-width="0.5" textLength="3.0" lengthAdjust="spacingAndGlyphs">2</text>
<text class="san" x="677.5" y="190.7" font-size="7.6" font-weight="bold" fill="#000" stroke="#000" stroke-width="0.75" textLength="6.0" lengthAdjust="spacingAndGlyphs">10</text>
<text class="san" x="683.8" y="185.5" font-size="6.8" font-weight="bold" fill="#000" stroke="#000" stroke-width="0.5" textLength="3.0" lengthAdjust="spacingAndGlyphs">3</text>
<text class="san" x="706.2" y="190.7" font-size="7.6" font-weight="bold" fill="#000" stroke="#000" stroke-width="0.75" textLength="6.0" lengthAdjust="spacingAndGlyphs">10</text>
<text class="san" x="712.5" y="185.5" font-size="6.8" font-weight="bold" fill="#000" stroke="#000" stroke-width="0.5" textLength="3.0" lengthAdjust="spacingAndGlyphs">4</text>
<text class="san" x="580.1" y="176.5" font-size="7" font-weight="bold" fill="#8c8c8c">0</text>
<polygon points="47.5,335.7 47.5,205.3 47.5,312.0 48.3,312.8 50.8,314.5 53.3,316.2 55.0,317.0 56.7,315.3 59.2,312.8 60.8,313.7 63.0,312.0 64.7,308.7 65.8,303.7 67.5,300.3 69.2,297.8 70.8,295.3 72.5,292.0 74.2,288.7 75.8,285.3 77.5,280.3 79.2,272.0 80.3,265.3 81.7,257.0 83.0,251.2 84.2,250.3 85.3,245.3 86.7,238.7 88.0,232.0 89.2,223.7 90.0,221.2 90.8,223.7 91.7,227.8 92.5,220.3 93.7,217.8 94.7,215.3 95.3,214.0 96.3,220.3 97.5,230.3 98.7,242.0 100.0,253.7 101.3,265.3 102.5,275.3 103.7,283.7 105.0,290.3 106.3,298.7 107.5,303.7 109.2,308.7 110.8,312.0 112.5,310.3 114.7,308.7 116.7,306.2 118.3,310.3 120.0,314.5 121.7,316.2 123.3,315.3 125.0,317.0 126.7,317.8 128.3,315.3 130.0,317.0 131.7,320.3 133.3,319.5 135.0,321.2 136.7,322.0 138.3,320.3 140.0,319.5 141.7,318.7 143.3,319.5 145.0,317.0 146.7,317.8 148.3,319.5 150.0,318.7 151.7,317.0 154.2,316.2 156.7,316.2 159.2,313.7 161.7,308.7 163.7,300.3 165.3,290.3 166.3,205.3 166.3,335.7" fill="#e5e5e5"/>
<rect x="47.2" y="200.9" width="120.0" height="136.5" fill="none" stroke="#8a8a8a" stroke-width="1.6"/>
<polyline points="48.3,308.7 50.8,302.0 52.5,300.3 54.2,297.0 55.8,293.7 57.5,285.3 59.2,278.7 60.8,272.0 62.5,263.7 64.2,252.0 65.8,242.0 67.5,235.3 69.2,227.0 70.8,220.3 72.0,216.2 73.0,214.5 74.2,222.0 75.0,230.3 76.0,218.7 77.0,220.3 78.0,228.7 79.2,237.0 80.3,242.0 81.7,250.3 83.0,257.0 84.2,265.3 85.3,275.3 86.7,283.7 88.0,287.0 89.2,290.3 90.3,292.0 91.7,295.3 93.7,297.0 95.8,292.8 97.5,293.7 98.7,298.7 100.0,305.3 101.7,310.3 103.3,312.8 105.0,315.3 107.5,317.0 110.0,319.5 112.5,322.0 115.0,324.5 117.5,325.3 120.0,326.2 123.3,327.0 126.7,329.5 130.0,332.0 133.3,333.7 136.7,334.5 141.7,335.3 148.3,335.5 156.7,335.5 165.0,335.5" fill="none" stroke="#9a9a9a" stroke-width="1.4" stroke-linejoin="round"/>
<polyline points="47.5,205.3 47.5,312.0 48.3,312.8 50.8,314.5 53.3,316.2 55.0,317.0 56.7,315.3 59.2,312.8 60.8,313.7 63.0,312.0 64.7,308.7 65.8,303.7 67.5,300.3 69.2,297.8 70.8,295.3 72.5,292.0 74.2,288.7 75.8,285.3 77.5,280.3 79.2,272.0 80.3,265.3 81.7,257.0 83.0,251.2 84.2,250.3 85.3,245.3 86.7,238.7 88.0,232.0 89.2,223.7 90.0,221.2 90.8,223.7 91.7,227.8 92.5,220.3 93.7,217.8 94.7,215.3 95.3,214.0 96.3,220.3 97.5,230.3 98.7,242.0 100.0,253.7 101.3,265.3 102.5,275.3 103.7,283.7 105.0,290.3 106.3,298.7 107.5,303.7 109.2,308.7 110.8,312.0 112.5,310.3 114.7,308.7 116.7,306.2 118.3,310.3 120.0,314.5 121.7,316.2 123.3,315.3 125.0,317.0 126.7,317.8 128.3,315.3 130.0,317.0 131.7,320.3 133.3,319.5 135.0,321.2 136.7,322.0 138.3,320.3 140.0,319.5 141.7,318.7 143.3,319.5 145.0,317.0 146.7,317.8 148.3,319.5 150.0,318.7 151.7,317.0 154.2,316.2 156.7,316.2 159.2,313.7 161.7,308.7 163.7,300.3 165.3,290.3 166.3,205.3" fill="none" stroke="#404040" stroke-width="1.65" stroke-linejoin="round"/>
<line x1="44.2" y1="337.4" x2="168.0" y2="337.4" stroke="#6a6a6a" stroke-width="2"/>
<line x1="47.2" y1="337.4" x2="47.2" y2="341.79999999999995" stroke="#222" stroke-width="1.3"/>
<line x1="56.2" y1="337.4" x2="56.2" y2="339.79999999999995" stroke="#444" stroke-width="0.9"/>
<line x1="61.5" y1="337.4" x2="61.5" y2="339.79999999999995" stroke="#444" stroke-width="0.9"/>
<line x1="65.3" y1="337.4" x2="65.3" y2="339.79999999999995" stroke="#444" stroke-width="0.9"/>
<line x1="68.2" y1="337.4" x2="68.2" y2="340.59999999999997" stroke="#444" stroke-width="1.1"/>
<line x1="70.5" y1="337.4" x2="70.5" y2="339.79999999999995" stroke="#444" stroke-width="0.9"/>
<line x1="72.6" y1="337.4" x2="72.6" y2="339.79999999999995" stroke="#444" stroke-width="0.9"/>
<line x1="74.3" y1="337.4" x2="74.3" y2="339.79999999999995" stroke="#444" stroke-width="0.9"/>
<line x1="75.8" y1="337.4" x2="75.8" y2="339.79999999999995" stroke="#444" stroke-width="0.9"/>
<line x1="77.2" y1="337.4" x2="77.2" y2="341.79999999999995" stroke="#222" stroke-width="1.3"/>
<line x1="86.2" y1="337.4" x2="86.2" y2="339.79999999999995" stroke="#444" stroke-width="0.9"/>
<line x1="91.5" y1="337.4" x2="91.5" y2="339.79999999999995" stroke="#444" stroke-width="0.9"/>
<line x1="95.3" y1="337.4" x2="95.3" y2="339.79999999999995" stroke="#444" stroke-width="0.9"/>
<line x1="98.2" y1="337.4" x2="98.2" y2="340.59999999999997" stroke="#444" stroke-width="1.1"/>
<line x1="100.5" y1="337.4" x2="100.5" y2="339.79999999999995" stroke="#444" stroke-width="0.9"/>
<line x1="102.6" y1="337.4" x2="102.6" y2="339.79999999999995" stroke="#444" stroke-width="0.9"/>
<line x1="104.3" y1="337.4" x2="104.3" y2="339.79999999999995" stroke="#444" stroke-width="0.9"/>
<line x1="105.8" y1="337.4" x2="105.8" y2="339.79999999999995" stroke="#444" stroke-width="0.9"/>
<line x1="107.2" y1="337.4" x2="107.2" y2="341.79999999999995" stroke="#222" stroke-width="1.3"/>
<line x1="116.2" y1="337.4" x2="116.2" y2="339.79999999999995" stroke="#444" stroke-width="0.9"/>
<line x1="121.5" y1="337.4" x2="121.5" y2="339.79999999999995" stroke="#444" stroke-width="0.9"/>
<line x1="125.3" y1="337.4" x2="125.3" y2="339.79999999999995" stroke="#444" stroke-width="0.9"/>
<line x1="128.2" y1="337.4" x2="128.2" y2="340.59999999999997" stroke="#444" stroke-width="1.1"/>
<line x1="130.5" y1="337.4" x2="130.5" y2="339.79999999999995" stroke="#444" stroke-width="0.9"/>
<line x1="132.6" y1="337.4" x2="132.6" y2="339.79999999999995" stroke="#444" stroke-width="0.9"/>
<line x1="134.3" y1="337.4" x2="134.3" y2="339.79999999999995" stroke="#444" stroke-width="0.9"/>
<line x1="135.8" y1="337.4" x2="135.8" y2="339.79999999999995" stroke="#444" stroke-width="0.9"/>
<line x1="137.2" y1="337.4" x2="137.2" y2="341.79999999999995" stroke="#222" stroke-width="1.3"/>
<line x1="146.2" y1="337.4" x2="146.2" y2="339.79999999999995" stroke="#444" stroke-width="0.9"/>
<line x1="151.5" y1="337.4" x2="151.5" y2="339.79999999999995" stroke="#444" stroke-width="0.9"/>
<line x1="155.3" y1="337.4" x2="155.3" y2="339.79999999999995" stroke="#444" stroke-width="0.9"/>
<line x1="158.2" y1="337.4" x2="158.2" y2="340.59999999999997" stroke="#444" stroke-width="1.1"/>
<line x1="160.5" y1="337.4" x2="160.5" y2="339.79999999999995" stroke="#444" stroke-width="0.9"/>
<line x1="162.6" y1="337.4" x2="162.6" y2="339.79999999999995" stroke="#444" stroke-width="0.9"/>
<line x1="164.3" y1="337.4" x2="164.3" y2="339.79999999999995" stroke="#444" stroke-width="0.9"/>
<line x1="165.8" y1="337.4" x2="165.8" y2="339.79999999999995" stroke="#444" stroke-width="0.9"/>
<line x1="167.2" y1="337.4" x2="167.2" y2="341.79999999999995" stroke="#222" stroke-width="1.3"/>
<text class="san" x="49.4" y="351.6" font-size="7.6" font-weight="bold" fill="#000" stroke="#000" stroke-width="0.75" textLength="6.0" lengthAdjust="spacingAndGlyphs">10</text>
<text class="san" x="55.7" y="346.4" font-size="6.8" font-weight="bold" fill="#000" stroke="#000" stroke-width="0.5" textLength="3.0" lengthAdjust="spacingAndGlyphs">0</text>
<text class="san" x="75.4" y="351.6" font-size="7.6" font-weight="bold" fill="#000" stroke="#000" stroke-width="0.75" textLength="6.0" lengthAdjust="spacingAndGlyphs">10</text>
<text class="san" x="81.7" y="346.4" font-size="6.8" font-weight="bold" fill="#000" stroke="#000" stroke-width="0.5" textLength="3.0" lengthAdjust="spacingAndGlyphs">1</text>
<text class="san" x="104.6" y="351.6" font-size="7.6" font-weight="bold" fill="#000" stroke="#000" stroke-width="0.75" textLength="6.0" lengthAdjust="spacingAndGlyphs">10</text>
<text class="san" x="110.9" y="346.4" font-size="6.8" font-weight="bold" fill="#000" stroke="#000" stroke-width="0.5" textLength="3.0" lengthAdjust="spacingAndGlyphs">2</text>
<text class="san" x="134.6" y="351.6" font-size="7.6" font-weight="bold" fill="#000" stroke="#000" stroke-width="0.75" textLength="6.0" lengthAdjust="spacingAndGlyphs">10</text>
<text class="san" x="140.9" y="346.4" font-size="6.8" font-weight="bold" fill="#000" stroke="#000" stroke-width="0.5" textLength="3.0" lengthAdjust="spacingAndGlyphs">3</text>
<text class="san" x="163.0" y="351.6" font-size="7.6" font-weight="bold" fill="#000" stroke="#000" stroke-width="0.75" textLength="6.0" lengthAdjust="spacingAndGlyphs">10</text>
<text class="san" x="169.3" y="346.4" font-size="6.8" font-weight="bold" fill="#000" stroke="#000" stroke-width="0.5" textLength="3.0" lengthAdjust="spacingAndGlyphs">4</text>
<text class="san" x="38.400000000000006" y="337.79999999999995" font-size="7" font-weight="bold" fill="#000" stroke="#000" stroke-width="0.6">0</text>
<line x1="42.2" y1="337.4" x2="47.2" y2="337.4" stroke="#222" stroke-width="1.2"/>
<polygon points="182.7,335.7 182.7,205.3 182.7,312.0 183.7,312.0 185.8,310.3 188.0,308.7 190.0,306.2 191.7,302.0 193.3,293.7 195.0,287.0 196.7,280.3 198.3,273.7 200.0,267.0 201.7,257.0 203.3,243.7 204.7,237.0 205.8,235.3 206.7,230.3 208.0,220.3 208.7,218.7 209.7,217.0 210.5,215.3 211.3,216.2 212.2,220.3 213.0,225.3 214.2,230.3 215.3,235.3 216.7,247.0 218.0,255.3 219.3,265.3 220.8,273.7 222.0,280.3 223.3,285.3 224.7,293.7 226.3,300.3 228.3,303.7 230.0,304.5 231.7,306.2 233.3,308.7 234.7,315.3 236.0,320.3 237.5,324.5 239.2,327.0 240.8,327.8 243.0,327.8 245.0,327.0 247.5,326.2 250.0,327.0 252.5,326.2 255.0,326.2 257.0,325.3 259.2,327.0 261.7,326.2 263.7,326.2 265.8,327.8 268.3,328.7 270.8,327.8 273.3,327.0 275.8,327.8 278.3,328.7 280.8,330.0 283.3,331.2 285.8,332.0 288.3,332.8 290.8,333.3 293.3,333.7 295.8,334.0 298.3,334.5 300.3,333.7 301.3,325.3 301.7,323.7 301.7,335.7" fill="#e5e5e5"/>
<rect x="182.4" y="200.9" width="120.5" height="136.5" fill="none" stroke="#8a8a8a" stroke-width="1.6"/>
<polyline points="183.7,308.7 185.8,300.3 187.5,298.7 189.2,295.3 190.8,293.7 192.5,288.7 194.2,280.3 195.8,272.0 197.5,263.7 199.2,253.7 200.8,243.7 202.5,235.3 204.2,228.7 205.8,218.7 207.0,214.5 208.0,213.7 208.7,218.7 209.7,223.7 210.8,220.3 212.0,222.0 213.3,230.3 215.0,235.3 216.7,245.3 218.0,255.3 219.7,267.0 221.3,277.0 223.0,285.3 224.7,288.7 225.8,295.3 227.5,297.0 229.2,293.7 230.8,292.0 232.5,293.7 233.7,298.7 235.0,303.7 236.7,307.0 238.3,310.3 240.0,313.7 242.0,314.5 244.2,317.0 245.8,318.7 247.5,320.3 249.2,323.7 250.8,325.3 253.3,326.2 255.8,327.0 258.3,327.0 260.8,328.7 263.3,330.3 265.8,332.0 268.3,332.8 270.8,332.8 273.3,333.7 276.7,334.5 280.0,335.0 285.0,335.3 291.7,335.5 298.3,335.5 301.3,335.5" fill="none" stroke="#9a9a9a" stroke-width="1.4" stroke-linejoin="round"/>
<polyline points="182.7,205.3 182.7,312.0 183.7,312.0 185.8,310.3 188.0,308.7 190.0,306.2 191.7,302.0 193.3,293.7 195.0,287.0 196.7,280.3 198.3,273.7 200.0,267.0 201.7,257.0 203.3,243.7 204.7,237.0 205.8,235.3 206.7,230.3 208.0,220.3 208.7,218.7 209.7,217.0 210.5,215.3 211.3,216.2 212.2,220.3 213.0,225.3 214.2,230.3 215.3,235.3 216.7,247.0 218.0,255.3 219.3,265.3 220.8,273.7 222.0,280.3 223.3,285.3 224.7,293.7 226.3,300.3 228.3,303.7 230.0,304.5 231.7,306.2 233.3,308.7 234.7,315.3 236.0,320.3 237.5,324.5 239.2,327.0 240.8,327.8 243.0,327.8 245.0,327.0 247.5,326.2 250.0,327.0 252.5,326.2 255.0,326.2 257.0,325.3 259.2,327.0 261.7,326.2 263.7,326.2 265.8,327.8 268.3,328.7 270.8,327.8 273.3,327.0 275.8,327.8 278.3,328.7 280.8,330.0 283.3,331.2 285.8,332.0 288.3,332.8 290.8,333.3 293.3,333.7 295.8,334.0 298.3,334.5 300.3,333.7 301.3,325.3 301.7,323.7" fill="none" stroke="#404040" stroke-width="1.65" stroke-linejoin="round"/>
<line x1="179.4" y1="337.4" x2="303.7" y2="337.4" stroke="#6a6a6a" stroke-width="2"/>
<line x1="182.4" y1="337.4" x2="182.4" y2="341.79999999999995" stroke="#222" stroke-width="1.3"/>
<line x1="191.5" y1="337.4" x2="191.5" y2="339.79999999999995" stroke="#444" stroke-width="0.9"/>
<line x1="196.8" y1="337.4" x2="196.8" y2="339.79999999999995" stroke="#444" stroke-width="0.9"/>
<line x1="200.5" y1="337.4" x2="200.5" y2="339.79999999999995" stroke="#444" stroke-width="0.9"/>
<line x1="203.5" y1="337.4" x2="203.5" y2="340.59999999999997" stroke="#444" stroke-width="1.1"/>
<line x1="205.8" y1="337.4" x2="205.8" y2="339.79999999999995" stroke="#444" stroke-width="0.9"/>
<line x1="207.9" y1="337.4" x2="207.9" y2="339.79999999999995" stroke="#444" stroke-width="0.9"/>
<line x1="209.6" y1="337.4" x2="209.6" y2="339.79999999999995" stroke="#444" stroke-width="0.9"/>
<line x1="211.1" y1="337.4" x2="211.1" y2="339.79999999999995" stroke="#444" stroke-width="0.9"/>
<line x1="212.5" y1="337.4" x2="212.5" y2="341.79999999999995" stroke="#222" stroke-width="1.3"/>
<line x1="221.6" y1="337.4" x2="221.6" y2="339.79999999999995" stroke="#444" stroke-width="0.9"/>
<line x1="226.9" y1="337.4" x2="226.9" y2="339.79999999999995" stroke="#444" stroke-width="0.9"/>
<line x1="230.7" y1="337.4" x2="230.7" y2="339.79999999999995" stroke="#444" stroke-width="0.9"/>
<line x1="233.6" y1="337.4" x2="233.6" y2="340.59999999999997" stroke="#444" stroke-width="1.1"/>
<line x1="236.0" y1="337.4" x2="236.0" y2="339.79999999999995" stroke="#444" stroke-width="0.9"/>
<line x1="238.0" y1="337.4" x2="238.0" y2="339.79999999999995" stroke="#444" stroke-width="0.9"/>
<line x1="239.7" y1="337.4" x2="239.7" y2="339.79999999999995" stroke="#444" stroke-width="0.9"/>
<line x1="241.3" y1="337.4" x2="241.3" y2="339.79999999999995" stroke="#444" stroke-width="0.9"/>
<line x1="242.6" y1="337.4" x2="242.6" y2="341.79999999999995" stroke="#222" stroke-width="1.3"/>
<line x1="251.7" y1="337.4" x2="251.7" y2="339.79999999999995" stroke="#444" stroke-width="0.9"/>
<line x1="257.0" y1="337.4" x2="257.0" y2="339.79999999999995" stroke="#444" stroke-width="0.9"/>
<line x1="260.8" y1="337.4" x2="260.8" y2="339.79999999999995" stroke="#444" stroke-width="0.9"/>
<line x1="263.7" y1="337.4" x2="263.7" y2="340.59999999999997" stroke="#444" stroke-width="1.1"/>
<line x1="266.1" y1="337.4" x2="266.1" y2="339.79999999999995" stroke="#444" stroke-width="0.9"/>
<line x1="268.1" y1="337.4" x2="268.1" y2="339.79999999999995" stroke="#444" stroke-width="0.9"/>
<line x1="269.9" y1="337.4" x2="269.9" y2="339.79999999999995" stroke="#444" stroke-width="0.9"/>
<line x1="271.4" y1="337.4" x2="271.4" y2="339.79999999999995" stroke="#444" stroke-width="0.9"/>
<line x1="272.8" y1="337.4" x2="272.8" y2="341.79999999999995" stroke="#222" stroke-width="1.3"/>
<line x1="281.8" y1="337.4" x2="281.8" y2="339.79999999999995" stroke="#444" stroke-width="0.9"/>
<line x1="287.1" y1="337.4" x2="287.1" y2="339.79999999999995" stroke="#444" stroke-width="0.9"/>
<line x1="290.9" y1="337.4" x2="290.9" y2="339.79999999999995" stroke="#444" stroke-width="0.9"/>
<line x1="293.8" y1="337.4" x2="293.8" y2="340.59999999999997" stroke="#444" stroke-width="1.1"/>
<line x1="296.2" y1="337.4" x2="296.2" y2="339.79999999999995" stroke="#444" stroke-width="0.9"/>
<line x1="298.2" y1="337.4" x2="298.2" y2="339.79999999999995" stroke="#444" stroke-width="0.9"/>
<line x1="300.0" y1="337.4" x2="300.0" y2="339.79999999999995" stroke="#444" stroke-width="0.9"/>
<line x1="301.5" y1="337.4" x2="301.5" y2="339.79999999999995" stroke="#444" stroke-width="0.9"/>
<line x1="302.9" y1="337.4" x2="302.9" y2="341.79999999999995" stroke="#222" stroke-width="1.3"/>
<text class="san" x="184.6" y="351.6" font-size="7.6" font-weight="bold" fill="#000" stroke="#000" stroke-width="0.75" textLength="6.0" lengthAdjust="spacingAndGlyphs">10</text>
<text class="san" x="190.9" y="346.4" font-size="6.8" font-weight="bold" fill="#000" stroke="#000" stroke-width="0.5" textLength="3.0" lengthAdjust="spacingAndGlyphs">0</text>
<text class="san" x="210.7" y="351.6" font-size="7.6" font-weight="bold" fill="#000" stroke="#000" stroke-width="0.75" textLength="6.0" lengthAdjust="spacingAndGlyphs">10</text>
<text class="san" x="217.0" y="346.4" font-size="6.8" font-weight="bold" fill="#000" stroke="#000" stroke-width="0.5" textLength="3.0" lengthAdjust="spacingAndGlyphs">1</text>
<text class="san" x="240.0" y="351.6" font-size="7.6" font-weight="bold" fill="#000" stroke="#000" stroke-width="0.75" textLength="6.0" lengthAdjust="spacingAndGlyphs">10</text>
<text class="san" x="246.3" y="346.4" font-size="6.8" font-weight="bold" fill="#000" stroke="#000" stroke-width="0.5" textLength="3.0" lengthAdjust="spacingAndGlyphs">2</text>
<text class="san" x="270.2" y="351.6" font-size="7.6" font-weight="bold" fill="#000" stroke="#000" stroke-width="0.75" textLength="6.0" lengthAdjust="spacingAndGlyphs">10</text>
<text class="san" x="276.5" y="346.4" font-size="6.8" font-weight="bold" fill="#000" stroke="#000" stroke-width="0.5" textLength="3.0" lengthAdjust="spacingAndGlyphs">3</text>
<text class="san" x="298.7" y="351.6" font-size="7.6" font-weight="bold" fill="#000" stroke="#000" stroke-width="0.75" textLength="6.0" lengthAdjust="spacingAndGlyphs">10</text>
<text class="san" x="305.0" y="346.4" font-size="6.8" font-weight="bold" fill="#000" stroke="#000" stroke-width="0.5" textLength="3.0" lengthAdjust="spacingAndGlyphs">4</text>
<text class="san" x="173.4" y="337.4" font-size="7" font-weight="bold" fill="#8c8c8c">0</text>
<polygon points="318.5,334.6 318.5,205.3 318.5,302.0 319.3,301.2 321.0,295.3 322.7,288.7 324.3,283.7 326.0,278.7 327.7,273.7 329.3,270.3 331.0,265.3 332.7,255.3 334.3,247.0 335.7,240.3 336.8,233.7 338.0,227.0 339.0,223.7 340.2,224.5 341.3,225.3 342.7,227.0 344.0,230.3 345.2,235.3 346.3,243.7 347.3,252.0 348.5,255.3 349.3,262.0 350.2,270.3 351.0,275.3 352.3,273.7 353.5,277.0 354.7,282.0 356.0,288.7 357.3,297.0 358.5,302.0 359.7,303.7 361.0,302.8 362.7,303.7 364.0,302.0 365.2,305.3 366.3,308.7 367.7,312.0 369.0,317.0 370.3,322.0 371.8,325.3 373.5,327.8 375.2,328.7 376.8,329.5 379.0,329.5 381.3,329.5 383.5,328.7 385.7,327.0 387.3,325.3 389.3,322.8 391.3,322.0 393.5,322.8 395.7,323.7 397.7,323.7 399.3,324.5 401.0,325.3 402.7,325.3 404.3,324.5 406.8,325.3 409.3,325.3 411.8,326.2 414.3,327.0 416.8,327.8 419.3,328.7 421.8,329.5 424.3,330.3 426.8,331.2 429.3,332.0 431.8,332.3 434.3,332.0 436.0,328.7 437.0,318.7 437.3,317.0 437.3,334.6" fill="#e5e5e5"/>
<rect x="318.2" y="200.9" width="119.5" height="135.4" fill="none" stroke="#8a8a8a" stroke-width="1.6"/>
<polyline points="319.3,312.0 320.7,305.3 321.8,298.7 323.5,295.3 325.2,290.3 326.8,283.7 328.5,277.0 330.2,272.0 331.8,263.7 333.5,255.3 335.2,245.3 336.8,237.0 338.5,228.7 339.7,223.7 341.0,218.7 342.3,215.3 343.5,213.7 344.3,217.0 345.2,225.3 346.0,218.7 347.0,217.0 348.0,223.7 349.0,232.0 350.2,237.0 351.3,243.7 352.7,252.0 354.0,262.0 355.2,272.0 356.3,277.0 357.7,282.0 359.0,285.3 360.2,288.7 361.3,293.7 362.7,297.0 364.3,292.8 366.0,292.0 367.7,293.7 369.0,300.3 370.3,305.3 371.8,308.7 373.5,312.0 375.7,312.8 377.7,313.7 379.7,315.3 381.8,318.7 383.5,322.0 385.7,324.5 387.7,326.2 390.2,327.0 392.7,327.8 395.2,328.3 397.7,329.5 400.2,331.2 402.7,332.0 406.0,332.0 409.3,332.8 412.7,333.7 417.7,334.4 424.3,334.4 432.7,334.4 437.3,334.4" fill="none" stroke="#9a9a9a" stroke-width="1.4" stroke-linejoin="round"/>
<polyline points="318.5,205.3 318.5,302.0 319.3,301.2 321.0,295.3 322.7,288.7 324.3,283.7 326.0,278.7 327.7,273.7 329.3,270.3 331.0,265.3 332.7,255.3 334.3,247.0 335.7,240.3 336.8,233.7 338.0,227.0 339.0,223.7 340.2,224.5 341.3,225.3 342.7,227.0 344.0,230.3 345.2,235.3 346.3,243.7 347.3,252.0 348.5,255.3 349.3,262.0 350.2,270.3 351.0,275.3 352.3,273.7 353.5,277.0 354.7,282.0 356.0,288.7 357.3,297.0 358.5,302.0 359.7,303.7 361.0,302.8 362.7,303.7 364.0,302.0 365.2,305.3 366.3,308.7 367.7,312.0 369.0,317.0 370.3,322.0 371.8,325.3 373.5,327.8 375.2,328.7 376.8,329.5 379.0,329.5 381.3,329.5 383.5,328.7 385.7,327.0 387.3,325.3 389.3,322.8 391.3,322.0 393.5,322.8 395.7,323.7 397.7,323.7 399.3,324.5 401.0,325.3 402.7,325.3 404.3,324.5 406.8,325.3 409.3,325.3 411.8,326.2 414.3,327.0 416.8,327.8 419.3,328.7 421.8,329.5 424.3,330.3 426.8,331.2 429.3,332.0 431.8,332.3 434.3,332.0 436.0,328.7 437.0,318.7 437.3,317.0" fill="none" stroke="#404040" stroke-width="1.65" stroke-linejoin="round"/>
<line x1="315.2" y1="336.3" x2="438.5" y2="336.3" stroke="#6a6a6a" stroke-width="2"/>
<line x1="318.2" y1="336.3" x2="318.2" y2="340.7" stroke="#222" stroke-width="1.3"/>
<line x1="327.2" y1="336.3" x2="327.2" y2="338.7" stroke="#444" stroke-width="0.9"/>
<line x1="332.5" y1="336.3" x2="332.5" y2="338.7" stroke="#444" stroke-width="0.9"/>
<line x1="336.2" y1="336.3" x2="336.2" y2="338.7" stroke="#444" stroke-width="0.9"/>
<line x1="339.1" y1="336.3" x2="339.1" y2="339.5" stroke="#444" stroke-width="1.1"/>
<line x1="341.4" y1="336.3" x2="341.4" y2="338.7" stroke="#444" stroke-width="0.9"/>
<line x1="343.4" y1="336.3" x2="343.4" y2="338.7" stroke="#444" stroke-width="0.9"/>
<line x1="345.2" y1="336.3" x2="345.2" y2="338.7" stroke="#444" stroke-width="0.9"/>
<line x1="346.7" y1="336.3" x2="346.7" y2="338.7" stroke="#444" stroke-width="0.9"/>
<line x1="348.1" y1="336.3" x2="348.1" y2="340.7" stroke="#222" stroke-width="1.3"/>
<line x1="357.1" y1="336.3" x2="357.1" y2="338.7" stroke="#444" stroke-width="0.9"/>
<line x1="362.3" y1="336.3" x2="362.3" y2="338.7" stroke="#444" stroke-width="0.9"/>
<line x1="366.1" y1="336.3" x2="366.1" y2="338.7" stroke="#444" stroke-width="0.9"/>
<line x1="369.0" y1="336.3" x2="369.0" y2="339.5" stroke="#444" stroke-width="1.1"/>
<line x1="371.3" y1="336.3" x2="371.3" y2="338.7" stroke="#444" stroke-width="0.9"/>
<line x1="373.3" y1="336.3" x2="373.3" y2="338.7" stroke="#444" stroke-width="0.9"/>
<line x1="375.1" y1="336.3" x2="375.1" y2="338.7" stroke="#444" stroke-width="0.9"/>
<line x1="376.6" y1="336.3" x2="376.6" y2="338.7" stroke="#444" stroke-width="0.9"/>
<line x1="377.9" y1="336.3" x2="377.9" y2="340.7" stroke="#222" stroke-width="1.3"/>
<line x1="386.9" y1="336.3" x2="386.9" y2="338.7" stroke="#444" stroke-width="0.9"/>
<line x1="392.2" y1="336.3" x2="392.2" y2="338.7" stroke="#444" stroke-width="0.9"/>
<line x1="395.9" y1="336.3" x2="395.9" y2="338.7" stroke="#444" stroke-width="0.9"/>
<line x1="398.8" y1="336.3" x2="398.8" y2="339.5" stroke="#444" stroke-width="1.1"/>
<line x1="401.2" y1="336.3" x2="401.2" y2="338.7" stroke="#444" stroke-width="0.9"/>
<line x1="403.2" y1="336.3" x2="403.2" y2="338.7" stroke="#444" stroke-width="0.9"/>
<line x1="404.9" y1="336.3" x2="404.9" y2="338.7" stroke="#444" stroke-width="0.9"/>
<line x1="406.5" y1="336.3" x2="406.5" y2="338.7" stroke="#444" stroke-width="0.9"/>
<line x1="407.8" y1="336.3" x2="407.8" y2="340.7" stroke="#222" stroke-width="1.3"/>
<line x1="416.8" y1="336.3" x2="416.8" y2="338.7" stroke="#444" stroke-width="0.9"/>
<line x1="422.1" y1="336.3" x2="422.1" y2="338.7" stroke="#444" stroke-width="0.9"/>
<line x1="425.8" y1="336.3" x2="425.8" y2="338.7" stroke="#444" stroke-width="0.9"/>
<line x1="428.7" y1="336.3" x2="428.7" y2="339.5" stroke="#444" stroke-width="1.1"/>
<line x1="431.1" y1="336.3" x2="431.1" y2="338.7" stroke="#444" stroke-width="0.9"/>
<line x1="433.1" y1="336.3" x2="433.1" y2="338.7" stroke="#444" stroke-width="0.9"/>
<line x1="434.8" y1="336.3" x2="434.8" y2="338.7" stroke="#444" stroke-width="0.9"/>
<line x1="436.3" y1="336.3" x2="436.3" y2="338.7" stroke="#444" stroke-width="0.9"/>
<line x1="437.7" y1="336.3" x2="437.7" y2="340.7" stroke="#222" stroke-width="1.3"/>
<text class="san" x="320.4" y="350.5" font-size="7.6" font-weight="bold" fill="#000" stroke="#000" stroke-width="0.75" textLength="6.0" lengthAdjust="spacingAndGlyphs">10</text>
<text class="san" x="326.7" y="345.3" font-size="6.8" font-weight="bold" fill="#000" stroke="#000" stroke-width="0.5" textLength="3.0" lengthAdjust="spacingAndGlyphs">0</text>
<text class="san" x="346.3" y="350.5" font-size="7.6" font-weight="bold" fill="#000" stroke="#000" stroke-width="0.75" textLength="6.0" lengthAdjust="spacingAndGlyphs">10</text>
<text class="san" x="352.6" y="345.3" font-size="6.8" font-weight="bold" fill="#000" stroke="#000" stroke-width="0.5" textLength="3.0" lengthAdjust="spacingAndGlyphs">1</text>
<text class="san" x="375.3" y="350.5" font-size="7.6" font-weight="bold" fill="#000" stroke="#000" stroke-width="0.75" textLength="6.0" lengthAdjust="spacingAndGlyphs">10</text>
<text class="san" x="381.6" y="345.3" font-size="6.8" font-weight="bold" fill="#000" stroke="#000" stroke-width="0.5" textLength="3.0" lengthAdjust="spacingAndGlyphs">2</text>
<text class="san" x="405.2" y="350.5" font-size="7.6" font-weight="bold" fill="#000" stroke="#000" stroke-width="0.75" textLength="6.0" lengthAdjust="spacingAndGlyphs">10</text>
<text class="san" x="411.5" y="345.3" font-size="6.8" font-weight="bold" fill="#000" stroke="#000" stroke-width="0.5" textLength="3.0" lengthAdjust="spacingAndGlyphs">3</text>
<text class="san" x="433.5" y="350.5" font-size="7.6" font-weight="bold" fill="#000" stroke="#000" stroke-width="0.75" textLength="6.0" lengthAdjust="spacingAndGlyphs">10</text>
<text class="san" x="439.8" y="345.3" font-size="6.8" font-weight="bold" fill="#000" stroke="#000" stroke-width="0.5" textLength="3.0" lengthAdjust="spacingAndGlyphs">4</text>
<text class="san" x="309.2" y="336.3" font-size="7" font-weight="bold" fill="#8c8c8c">0</text>
<polygon points="454.4,335.7 454.4,205.3 454.4,283.7 455.3,283.7 456.7,275.3 457.8,268.7 459.0,258.7 460.3,252.0 461.7,247.0 462.8,243.7 464.0,237.0 465.0,232.0 466.2,223.7 467.0,222.0 467.8,225.3 468.7,232.0 469.5,242.0 470.3,235.3 471.2,230.3 472.0,232.0 472.8,227.0 473.7,228.7 474.5,233.7 475.3,242.0 476.2,250.3 477.3,255.3 478.7,261.2 480.0,262.0 481.2,265.3 482.3,272.0 483.7,273.7 485.3,275.3 487.0,275.3 488.7,277.0 490.0,278.7 491.2,287.0 492.3,292.0 493.7,295.3 495.0,297.0 496.7,297.8 498.3,298.7 500.3,298.7 502.0,299.5 503.7,298.7 505.3,297.8 507.0,298.7 508.7,297.8 510.3,298.7 511.7,301.2 512.8,302.0 514.0,300.3 515.3,305.3 517.0,308.7 518.7,312.0 520.3,310.3 522.0,311.2 523.3,312.0 524.7,311.2 525.7,313.7 527.0,317.0 528.3,321.2 529.7,323.7 531.2,326.2 532.8,327.8 534.5,329.5 536.2,330.3 537.8,332.0 539.5,333.7 542.0,334.5 545.3,333.7 548.7,334.5 552.0,335.3 555.3,335.7 558.7,335.7 562.0,335.7 565.3,335.7 568.7,335.7 572.0,335.3 573.7,334.5 573.7,335.7" fill="#e5e5e5"/>
<rect x="454.1" y="200.9" width="120.3" height="136.5" fill="none" stroke="#8a8a8a" stroke-width="1.6"/>
<polyline points="455.3,313.7 456.7,307.0 458.3,302.0 460.3,298.7 462.0,295.3 463.7,292.0 465.0,285.3 466.2,278.7 467.3,270.3 468.7,262.0 470.0,255.3 471.2,248.7 472.3,240.3 473.7,233.7 475.0,229.5 476.2,228.7 477.3,223.7 478.3,217.0 479.5,214.5 480.7,217.0 481.7,228.7 482.8,217.0 483.7,220.3 484.5,230.3 485.3,235.3 486.2,237.0 487.3,243.7 488.7,253.7 490.0,260.3 491.2,267.0 492.3,275.3 493.3,283.7 494.5,287.0 495.7,290.3 496.7,287.0 497.8,292.8 499.5,295.3 501.2,294.5 502.8,292.8 504.0,294.5 505.3,298.7 507.0,302.0 508.7,305.3 510.3,308.7 512.0,312.0 513.7,315.3 515.7,318.7 517.8,321.2 520.0,323.7 522.0,325.3 524.5,326.2 527.0,327.0 529.5,328.7 532.0,330.3 534.5,332.0 537.0,333.7 539.5,334.5 542.8,335.3 547.0,335.5 552.0,335.5 560.3,335.5 568.7,335.5 573.7,335.5" fill="none" stroke="#9a9a9a" stroke-width="1.4" stroke-linejoin="round"/>
<polyline points="454.4,205.3 454.4,283.7 455.3,283.7 456.7,275.3 457.8,268.7 459.0,258.7 460.3,252.0 461.7,247.0 462.8,243.7 464.0,237.0 465.0,232.0 466.2,223.7 467.0,222.0 467.8,225.3 468.7,232.0 469.5,242.0 470.3,235.3 471.2,230.3 472.0,232.0 472.8,227.0 473.7,228.7 474.5,233.7 475.3,242.0 476.2,250.3 477.3,255.3 478.7,261.2 480.0,262.0 481.2,265.3 482.3,272.0 483.7,273.7 485.3,275.3 487.0,275.3 488.7,277.0 490.0,278.7 491.2,287.0 492.3,292.0 493.7,295.3 495.0,297.0 496.7,297.8 498.3,298.7 500.3,298.7 502.0,299.5 503.7,298.7 505.3,297.8 507.0,298.7 508.7,297.8 510.3,298.7 511.7,301.2 512.8,302.0 514.0,300.3 515.3,305.3 517.0,308.7 518.7,312.0 520.3,310.3 522.0,311.2 523.3,312.0 524.7,311.2 525.7,313.7 527.0,317.0 528.3,321.2 529.7,323.7 531.2,326.2 532.8,327.8 534.5,329.5 536.2,330.3 537.8,332.0 539.5,333.7 542.0,334.5 545.3,333.7 548.7,334.5 552.0,335.3 555.3,335.5 558.7,335.5 562.0,335.5 565.3,335.5 568.7,335.5 572.0,335.3 573.7,334.5" fill="none" stroke="#404040" stroke-width="1.65" stroke-linejoin="round"/>
<line x1="451.1" y1="337.4" x2="575.1999999999999" y2="337.4" stroke="#6a6a6a" stroke-width="2"/>
<line x1="454.1" y1="337.4" x2="454.1" y2="341.79999999999995" stroke="#222" stroke-width="1.3"/>
<line x1="463.2" y1="337.4" x2="463.2" y2="339.79999999999995" stroke="#444" stroke-width="0.9"/>
<line x1="468.4" y1="337.4" x2="468.4" y2="339.79999999999995" stroke="#444" stroke-width="0.9"/>
<line x1="472.2" y1="337.4" x2="472.2" y2="339.79999999999995" stroke="#444" stroke-width="0.9"/>
<line x1="475.1" y1="337.4" x2="475.1" y2="340.59999999999997" stroke="#444" stroke-width="1.1"/>
<line x1="477.5" y1="337.4" x2="477.5" y2="339.79999999999995" stroke="#444" stroke-width="0.9"/>
<line x1="479.5" y1="337.4" x2="479.5" y2="339.79999999999995" stroke="#444" stroke-width="0.9"/>
<line x1="481.3" y1="337.4" x2="481.3" y2="339.79999999999995" stroke="#444" stroke-width="0.9"/>
<line x1="482.8" y1="337.4" x2="482.8" y2="339.79999999999995" stroke="#444" stroke-width="0.9"/>
<line x1="484.2" y1="337.4" x2="484.2" y2="341.79999999999995" stroke="#222" stroke-width="1.3"/>
<line x1="493.2" y1="337.4" x2="493.2" y2="339.79999999999995" stroke="#444" stroke-width="0.9"/>
<line x1="498.5" y1="337.4" x2="498.5" y2="339.79999999999995" stroke="#444" stroke-width="0.9"/>
<line x1="502.3" y1="337.4" x2="502.3" y2="339.79999999999995" stroke="#444" stroke-width="0.9"/>
<line x1="505.2" y1="337.4" x2="505.2" y2="340.59999999999997" stroke="#444" stroke-width="1.1"/>
<line x1="507.6" y1="337.4" x2="507.6" y2="339.79999999999995" stroke="#444" stroke-width="0.9"/>
<line x1="509.6" y1="337.4" x2="509.6" y2="339.79999999999995" stroke="#444" stroke-width="0.9"/>
<line x1="511.3" y1="337.4" x2="511.3" y2="339.79999999999995" stroke="#444" stroke-width="0.9"/>
<line x1="512.9" y1="337.4" x2="512.9" y2="339.79999999999995" stroke="#444" stroke-width="0.9"/>
<line x1="514.2" y1="337.4" x2="514.2" y2="341.79999999999995" stroke="#222" stroke-width="1.3"/>
<line x1="523.3" y1="337.4" x2="523.3" y2="339.79999999999995" stroke="#444" stroke-width="0.9"/>
<line x1="528.6" y1="337.4" x2="528.6" y2="339.79999999999995" stroke="#444" stroke-width="0.9"/>
<line x1="532.4" y1="337.4" x2="532.4" y2="339.79999999999995" stroke="#444" stroke-width="0.9"/>
<line x1="535.3" y1="337.4" x2="535.3" y2="340.59999999999997" stroke="#444" stroke-width="1.1"/>
<line x1="537.7" y1="337.4" x2="537.7" y2="339.79999999999995" stroke="#444" stroke-width="0.9"/>
<line x1="539.7" y1="337.4" x2="539.7" y2="339.79999999999995" stroke="#444" stroke-width="0.9"/>
<line x1="541.4" y1="337.4" x2="541.4" y2="339.79999999999995" stroke="#444" stroke-width="0.9"/>
<line x1="542.9" y1="337.4" x2="542.9" y2="339.79999999999995" stroke="#444" stroke-width="0.9"/>
<line x1="544.3" y1="337.4" x2="544.3" y2="341.79999999999995" stroke="#222" stroke-width="1.3"/>
<line x1="553.4" y1="337.4" x2="553.4" y2="339.79999999999995" stroke="#444" stroke-width="0.9"/>
<line x1="558.7" y1="337.4" x2="558.7" y2="339.79999999999995" stroke="#444" stroke-width="0.9"/>
<line x1="562.4" y1="337.4" x2="562.4" y2="339.79999999999995" stroke="#444" stroke-width="0.9"/>
<line x1="565.3" y1="337.4" x2="565.3" y2="340.59999999999997" stroke="#444" stroke-width="1.1"/>
<line x1="567.7" y1="337.4" x2="567.7" y2="339.79999999999995" stroke="#444" stroke-width="0.9"/>
<line x1="569.7" y1="337.4" x2="569.7" y2="339.79999999999995" stroke="#444" stroke-width="0.9"/>
<line x1="571.5" y1="337.4" x2="571.5" y2="339.79999999999995" stroke="#444" stroke-width="0.9"/>
<line x1="573.0" y1="337.4" x2="573.0" y2="339.79999999999995" stroke="#444" stroke-width="0.9"/>
<line x1="574.4" y1="337.4" x2="574.4" y2="341.79999999999995" stroke="#222" stroke-width="1.3"/>
<text class="san" x="456.3" y="351.6" font-size="7.6" font-weight="bold" fill="#000" stroke="#000" stroke-width="0.75" textLength="6.0" lengthAdjust="spacingAndGlyphs">10</text>
<text class="san" x="462.6" y="346.4" font-size="6.8" font-weight="bold" fill="#000" stroke="#000" stroke-width="0.5" textLength="3.0" lengthAdjust="spacingAndGlyphs">0</text>
<text class="san" x="482.4" y="351.6" font-size="7.6" font-weight="bold" fill="#000" stroke="#000" stroke-width="0.75" textLength="6.0" lengthAdjust="spacingAndGlyphs">10</text>
<text class="san" x="488.7" y="346.4" font-size="6.8" font-weight="bold" fill="#000" stroke="#000" stroke-width="0.5" textLength="3.0" lengthAdjust="spacingAndGlyphs">1</text>
<text class="san" x="511.6" y="351.6" font-size="7.6" font-weight="bold" fill="#000" stroke="#000" stroke-width="0.75" textLength="6.0" lengthAdjust="spacingAndGlyphs">10</text>
<text class="san" x="517.9" y="346.4" font-size="6.8" font-weight="bold" fill="#000" stroke="#000" stroke-width="0.5" textLength="3.0" lengthAdjust="spacingAndGlyphs">2</text>
<text class="san" x="541.7" y="351.6" font-size="7.6" font-weight="bold" fill="#000" stroke="#000" stroke-width="0.75" textLength="6.0" lengthAdjust="spacingAndGlyphs">10</text>
<text class="san" x="548.0" y="346.4" font-size="6.8" font-weight="bold" fill="#000" stroke="#000" stroke-width="0.5" textLength="3.0" lengthAdjust="spacingAndGlyphs">3</text>
<text class="san" x="570.2" y="351.6" font-size="7.6" font-weight="bold" fill="#000" stroke="#000" stroke-width="0.75" textLength="6.0" lengthAdjust="spacingAndGlyphs">10</text>
<text class="san" x="576.5" y="346.4" font-size="6.8" font-weight="bold" fill="#000" stroke="#000" stroke-width="0.5" textLength="3.0" lengthAdjust="spacingAndGlyphs">4</text>
<text class="san" x="445.1" y="337.4" font-size="7" font-weight="bold" fill="#8c8c8c">0</text>
<polygon points="589.4,335.7 589.4,205.3 589.4,275.3 590.3,275.3 591.7,272.0 592.8,268.7 594.0,263.7 595.3,255.3 596.7,248.7 597.8,242.0 599.0,233.7 600.0,228.7 601.2,222.0 602.0,223.7 602.8,218.7 603.7,222.0 604.5,223.7 605.3,220.3 606.2,217.8 607.0,219.5 607.8,225.3 608.7,232.0 609.5,235.3 610.3,242.0 611.7,248.7 612.8,255.3 614.0,262.0 615.3,272.0 616.7,282.0 618.0,292.0 619.5,300.3 621.2,308.7 622.8,315.3 624.5,318.7 626.2,320.3 627.8,321.2 629.5,322.0 631.2,321.2 632.8,318.7 634.5,313.7 635.7,307.0 637.0,298.7 638.3,288.7 639.5,278.7 640.7,268.7 642.0,260.3 643.3,259.5 644.5,260.3 645.7,258.7 646.7,255.3 647.5,252.8 648.3,255.3 649.5,260.3 650.7,263.7 652.0,267.0 653.3,268.7 654.5,266.2 655.3,265.3 656.3,270.3 657.5,277.0 658.7,283.7 660.0,290.3 661.2,297.0 662.3,302.0 663.7,302.8 665.0,305.3 666.2,310.3 667.3,311.2 668.7,313.7 670.0,318.7 671.2,322.0 672.3,322.8 673.7,321.2 675.0,322.0 676.2,324.5 677.8,326.2 679.5,328.7 681.2,330.3 682.8,331.2 685.3,332.0 687.8,332.3 690.3,332.8 693.7,333.7 697.0,334.0 700.3,334.5 703.7,334.8 706.7,334.5 707.8,330.3 708.7,323.7 708.7,335.7" fill="#e5e5e5"/>
<rect x="589.1" y="200.9" width="121.3" height="136.5" fill="none" stroke="#8a8a8a" stroke-width="1.6"/>
<polyline points="590.3,268.7 591.7,263.7 592.8,258.7 594.5,252.0 596.2,245.3 597.3,237.0 598.7,233.7 600.0,228.7 601.2,223.7 602.3,215.3 603.0,211.2 603.7,217.0 604.5,222.0 605.3,220.3 606.2,223.7 607.0,227.0 608.3,233.7 609.5,240.3 610.7,245.3 612.0,252.0 613.3,258.7 614.5,260.3 615.7,259.5 617.0,260.3 618.3,263.7 619.5,267.0 620.7,272.0 622.0,280.3 623.3,290.3 624.5,297.0 625.7,302.0 627.3,305.3 628.7,307.0 630.0,308.7 631.2,312.0 632.3,310.3 633.7,305.3 635.3,302.8 637.0,303.7 638.7,307.0 640.3,312.0 642.0,317.0 644.0,322.0 646.2,326.2 648.7,328.7 651.2,329.5 653.7,330.3 657.0,332.0 660.3,333.7 663.7,334.5 668.7,335.3 673.7,335.5 680.3,335.5 690.3,335.5 700.3,335.5 708.7,335.5" fill="none" stroke="#9a9a9a" stroke-width="1.4" stroke-linejoin="round"/>
<polyline points="589.4,205.3 589.4,275.3 590.3,275.3 591.7,272.0 592.8,268.7 594.0,263.7 595.3,255.3 596.7,248.7 597.8,242.0 599.0,233.7 600.0,228.7 601.2,222.0 602.0,223.7 602.8,218.7 603.7,222.0 604.5,223.7 605.3,220.3 606.2,217.8 607.0,219.5 607.8,225.3 608.7,232.0 609.5,235.3 610.3,242.0 611.7,248.7 612.8,255.3 614.0,262.0 615.3,272.0 616.7,282.0 618.0,292.0 619.5,300.3 621.2,308.7 622.8,315.3 624.5,318.7 626.2,320.3 627.8,321.2 629.5,322.0 631.2,321.2 632.8,318.7 634.5,313.7 635.7,307.0 637.0,298.7 638.3,288.7 639.5,278.7 640.7,268.7 642.0,260.3 643.3,259.5 644.5,260.3 645.7,258.7 646.7,255.3 647.5,252.8 648.3,255.3 649.5,260.3 650.7,263.7 652.0,267.0 653.3,268.7 654.5,266.2 655.3,265.3 656.3,270.3 657.5,277.0 658.7,283.7 660.0,290.3 661.2,297.0 662.3,302.0 663.7,302.8 665.0,305.3 666.2,310.3 667.3,311.2 668.7,313.7 670.0,318.7 671.2,322.0 672.3,322.8 673.7,321.2 675.0,322.0 676.2,324.5 677.8,326.2 679.5,328.7 681.2,330.3 682.8,331.2 685.3,332.0 687.8,332.3 690.3,332.8 693.7,333.7 697.0,334.0 700.3,334.5 703.7,334.8 706.7,334.5 707.8,330.3 708.7,323.7" fill="none" stroke="#404040" stroke-width="1.65" stroke-linejoin="round"/>
<line x1="586.1" y1="337.4" x2="711.1999999999999" y2="337.4" stroke="#6a6a6a" stroke-width="2"/>
<line x1="589.1" y1="337.4" x2="589.1" y2="341.79999999999995" stroke="#222" stroke-width="1.3"/>
<line x1="598.2" y1="337.4" x2="598.2" y2="339.79999999999995" stroke="#444" stroke-width="0.9"/>
<line x1="603.6" y1="337.4" x2="603.6" y2="339.79999999999995" stroke="#444" stroke-width="0.9"/>
<line x1="607.4" y1="337.4" x2="607.4" y2="339.79999999999995" stroke="#444" stroke-width="0.9"/>
<line x1="610.3" y1="337.4" x2="610.3" y2="340.59999999999997" stroke="#444" stroke-width="1.1"/>
<line x1="612.7" y1="337.4" x2="612.7" y2="339.79999999999995" stroke="#444" stroke-width="0.9"/>
<line x1="614.7" y1="337.4" x2="614.7" y2="339.79999999999995" stroke="#444" stroke-width="0.9"/>
<line x1="616.5" y1="337.4" x2="616.5" y2="339.79999999999995" stroke="#444" stroke-width="0.9"/>
<line x1="618.0" y1="337.4" x2="618.0" y2="339.79999999999995" stroke="#444" stroke-width="0.9"/>
<line x1="619.4" y1="337.4" x2="619.4" y2="341.79999999999995" stroke="#222" stroke-width="1.3"/>
<line x1="628.6" y1="337.4" x2="628.6" y2="339.79999999999995" stroke="#444" stroke-width="0.9"/>
<line x1="633.9" y1="337.4" x2="633.9" y2="339.79999999999995" stroke="#444" stroke-width="0.9"/>
<line x1="637.7" y1="337.4" x2="637.7" y2="339.79999999999995" stroke="#444" stroke-width="0.9"/>
<line x1="640.6" y1="337.4" x2="640.6" y2="340.59999999999997" stroke="#444" stroke-width="1.1"/>
<line x1="643.0" y1="337.4" x2="643.0" y2="339.79999999999995" stroke="#444" stroke-width="0.9"/>
<line x1="645.1" y1="337.4" x2="645.1" y2="339.79999999999995" stroke="#444" stroke-width="0.9"/>
<line x1="646.8" y1="337.4" x2="646.8" y2="339.79999999999995" stroke="#444" stroke-width="0.9"/>
<line x1="648.4" y1="337.4" x2="648.4" y2="339.79999999999995" stroke="#444" stroke-width="0.9"/>
<line x1="649.8" y1="337.4" x2="649.8" y2="341.79999999999995" stroke="#222" stroke-width="1.3"/>
<line x1="658.9" y1="337.4" x2="658.9" y2="339.79999999999995" stroke="#444" stroke-width="0.9"/>
<line x1="664.2" y1="337.4" x2="664.2" y2="339.79999999999995" stroke="#444" stroke-width="0.9"/>
<line x1="668.0" y1="337.4" x2="668.0" y2="339.79999999999995" stroke="#444" stroke-width="0.9"/>
<line x1="670.9" y1="337.4" x2="670.9" y2="340.59999999999997" stroke="#444" stroke-width="1.1"/>
<line x1="673.3" y1="337.4" x2="673.3" y2="339.79999999999995" stroke="#444" stroke-width="0.9"/>
<line x1="675.4" y1="337.4" x2="675.4" y2="339.79999999999995" stroke="#444" stroke-width="0.9"/>
<line x1="677.1" y1="337.4" x2="677.1" y2="339.79999999999995" stroke="#444" stroke-width="0.9"/>
<line x1="678.7" y1="337.4" x2="678.7" y2="339.79999999999995" stroke="#444" stroke-width="0.9"/>
<line x1="680.1" y1="337.4" x2="680.1" y2="341.79999999999995" stroke="#222" stroke-width="1.3"/>
<line x1="689.2" y1="337.4" x2="689.2" y2="339.79999999999995" stroke="#444" stroke-width="0.9"/>
<line x1="694.5" y1="337.4" x2="694.5" y2="339.79999999999995" stroke="#444" stroke-width="0.9"/>
<line x1="698.3" y1="337.4" x2="698.3" y2="339.79999999999995" stroke="#444" stroke-width="0.9"/>
<line x1="701.3" y1="337.4" x2="701.3" y2="340.59999999999997" stroke="#444" stroke-width="1.1"/>
<line x1="703.7" y1="337.4" x2="703.7" y2="339.79999999999995" stroke="#444" stroke-width="0.9"/>
<line x1="705.7" y1="337.4" x2="705.7" y2="339.79999999999995" stroke="#444" stroke-width="0.9"/>
<line x1="707.5" y1="337.4" x2="707.5" y2="339.79999999999995" stroke="#444" stroke-width="0.9"/>
<line x1="709.0" y1="337.4" x2="709.0" y2="339.79999999999995" stroke="#444" stroke-width="0.9"/>
<line x1="710.4" y1="337.4" x2="710.4" y2="341.79999999999995" stroke="#222" stroke-width="1.3"/>
<text class="san" x="591.3" y="351.6" font-size="7.6" font-weight="bold" fill="#000" stroke="#000" stroke-width="0.75" textLength="6.0" lengthAdjust="spacingAndGlyphs">10</text>
<text class="san" x="597.6" y="346.4" font-size="6.8" font-weight="bold" fill="#000" stroke="#000" stroke-width="0.5" textLength="3.0" lengthAdjust="spacingAndGlyphs">0</text>
<text class="san" x="617.6" y="351.6" font-size="7.6" font-weight="bold" fill="#000" stroke="#000" stroke-width="0.75" textLength="6.0" lengthAdjust="spacingAndGlyphs">10</text>
<text class="san" x="623.9" y="346.4" font-size="6.8" font-weight="bold" fill="#000" stroke="#000" stroke-width="0.5" textLength="3.0" lengthAdjust="spacingAndGlyphs">1</text>
<text class="san" x="647.1" y="351.6" font-size="7.6" font-weight="bold" fill="#000" stroke="#000" stroke-width="0.75" textLength="6.0" lengthAdjust="spacingAndGlyphs">10</text>
<text class="san" x="653.4" y="346.4" font-size="6.8" font-weight="bold" fill="#000" stroke="#000" stroke-width="0.5" textLength="3.0" lengthAdjust="spacingAndGlyphs">2</text>
<text class="san" x="677.5" y="351.6" font-size="7.6" font-weight="bold" fill="#000" stroke="#000" stroke-width="0.75" textLength="6.0" lengthAdjust="spacingAndGlyphs">10</text>
<text class="san" x="683.8" y="346.4" font-size="6.8" font-weight="bold" fill="#000" stroke="#000" stroke-width="0.5" textLength="3.0" lengthAdjust="spacingAndGlyphs">3</text>
<text class="san" x="706.2" y="351.6" font-size="7.6" font-weight="bold" fill="#000" stroke="#000" stroke-width="0.75" textLength="6.0" lengthAdjust="spacingAndGlyphs">10</text>
<text class="san" x="712.5" y="346.4" font-size="6.8" font-weight="bold" fill="#000" stroke="#000" stroke-width="0.5" textLength="3.0" lengthAdjust="spacingAndGlyphs">4</text>
<text class="san" x="580.1" y="337.4" font-size="7" font-weight="bold" fill="#8c8c8c">0</text>
<polygon points="47.5,497.8 47.5,363.0 47.5,486.3 48.3,486.3 49.7,487.2 51.3,485.5 53.3,487.2 55.3,487.7 57.5,487.2 59.7,486.3 61.7,485.5 63.3,486.3 65.0,484.7 66.7,482.2 68.3,479.7 70.0,476.3 71.3,474.7 72.5,476.3 73.7,473.0 75.0,471.3 76.3,469.7 77.5,466.3 79.2,464.7 80.3,463.0 81.7,459.7 83.0,458.0 84.2,456.3 85.3,453.0 86.7,448.0 88.0,443.0 89.2,438.0 90.3,433.0 91.7,429.7 93.0,418.0 94.2,411.3 95.3,406.3 96.7,401.3 98.0,394.7 99.2,391.3 100.0,388.0 100.8,384.7 101.7,387.2 102.5,388.8 103.7,390.5 105.0,392.2 106.3,396.3 107.5,406.3 108.7,413.0 110.0,419.7 111.2,428.0 112.3,431.3 113.3,433.0 114.7,439.7 115.8,446.3 117.0,451.3 118.3,453.0 119.7,459.7 120.8,463.0 122.0,466.3 123.3,469.7 124.7,473.0 126.0,476.3 127.5,479.7 129.2,483.0 130.8,485.5 132.5,486.7 134.2,487.2 135.8,488.0 137.5,489.7 139.2,491.0 140.8,491.7 143.3,492.2 145.8,493.0 148.3,493.8 150.8,494.7 153.3,495.5 155.8,495.5 158.3,495.5 160.8,494.7 163.3,493.0 165.0,489.7 166.0,479.7 166.7,473.0 166.7,497.8" fill="#e5e5e5"/>
<rect x="47.2" y="361.5" width="120.0" height="138.0" fill="none" stroke="#8a8a8a" stroke-width="1.6"/>
<polyline points="48.3,488.0 50.0,485.5 51.7,483.8 53.3,481.3 55.0,479.7 57.0,478.0 59.2,474.7 60.8,471.3 62.5,468.0 64.2,464.7 65.8,461.3 67.5,457.2 69.2,453.0 70.3,449.7 71.7,447.2 73.0,443.0 74.2,436.3 75.3,433.0 76.7,434.7 78.0,429.7 79.2,433.0 80.3,436.3 81.7,439.7 83.0,436.3 84.2,431.3 85.3,426.3 86.7,423.0 88.0,418.0 89.2,413.0 90.3,404.7 91.7,393.0 93.0,384.7 94.2,383.0 95.3,385.5 96.7,383.8 98.0,384.7 99.2,393.0 100.3,401.3 101.7,413.0 103.0,426.3 104.2,439.7 105.3,453.0 106.7,463.0 108.0,471.3 109.7,478.0 111.3,483.0 113.3,485.5 115.8,488.8 118.3,491.3 120.8,493.8 123.3,495.5 125.8,496.3 128.3,497.2 131.7,497.6 138.3,497.6 148.3,497.6 158.3,497.6 166.7,497.6" fill="none" stroke="#9a9a9a" stroke-width="1.4" stroke-linejoin="round"/>
<polyline points="47.5,363.0 47.5,486.3 48.3,486.3 49.7,487.2 51.3,485.5 53.3,487.2 55.3,487.7 57.5,487.2 59.7,486.3 61.7,485.5 63.3,486.3 65.0,484.7 66.7,482.2 68.3,479.7 70.0,476.3 71.3,474.7 72.5,476.3 73.7,473.0 75.0,471.3 76.3,469.7 77.5,466.3 79.2,464.7 80.3,463.0 81.7,459.7 83.0,458.0 84.2,456.3 85.3,453.0 86.7,448.0 88.0,443.0 89.2,438.0 90.3,433.0 91.7,429.7 93.0,418.0 94.2,411.3 95.3,406.3 96.7,401.3 98.0,394.7 99.2,391.3 100.0,388.0 100.8,384.7 101.7,387.2 102.5,388.8 103.7,390.5 105.0,392.2 106.3,396.3 107.5,406.3 108.7,413.0 110.0,419.7 111.2,428.0 112.3,431.3 113.3,433.0 114.7,439.7 115.8,446.3 117.0,451.3 118.3,453.0 119.7,459.7 120.8,463.0 122.0,466.3 123.3,469.7 124.7,473.0 126.0,476.3 127.5,479.7 129.2,483.0 130.8,485.5 132.5,486.7 134.2,487.2 135.8,488.0 137.5,489.7 139.2,491.0 140.8,491.7 143.3,492.2 145.8,493.0 148.3,493.8 150.8,494.7 153.3,495.5 155.8,495.5 158.3,495.5 160.8,494.7 163.3,493.0 165.0,489.7 166.0,479.7 166.7,473.0" fill="none" stroke="#404040" stroke-width="1.65" stroke-linejoin="round"/>
<line x1="44.2" y1="499.5" x2="168.0" y2="499.5" stroke="#6a6a6a" stroke-width="2"/>
<line x1="47.2" y1="499.5" x2="47.2" y2="503.9" stroke="#222" stroke-width="1.3"/>
<line x1="56.2" y1="499.5" x2="56.2" y2="501.9" stroke="#444" stroke-width="0.9"/>
<line x1="61.5" y1="499.5" x2="61.5" y2="501.9" stroke="#444" stroke-width="0.9"/>
<line x1="65.3" y1="499.5" x2="65.3" y2="501.9" stroke="#444" stroke-width="0.9"/>
<line x1="68.2" y1="499.5" x2="68.2" y2="502.7" stroke="#444" stroke-width="1.1"/>
<line x1="70.5" y1="499.5" x2="70.5" y2="501.9" stroke="#444" stroke-width="0.9"/>
<line x1="72.6" y1="499.5" x2="72.6" y2="501.9" stroke="#444" stroke-width="0.9"/>
<line x1="74.3" y1="499.5" x2="74.3" y2="501.9" stroke="#444" stroke-width="0.9"/>
<line x1="75.8" y1="499.5" x2="75.8" y2="501.9" stroke="#444" stroke-width="0.9"/>
<line x1="77.2" y1="499.5" x2="77.2" y2="503.9" stroke="#222" stroke-width="1.3"/>
<line x1="86.2" y1="499.5" x2="86.2" y2="501.9" stroke="#444" stroke-width="0.9"/>
<line x1="91.5" y1="499.5" x2="91.5" y2="501.9" stroke="#444" stroke-width="0.9"/>
<line x1="95.3" y1="499.5" x2="95.3" y2="501.9" stroke="#444" stroke-width="0.9"/>
<line x1="98.2" y1="499.5" x2="98.2" y2="502.7" stroke="#444" stroke-width="1.1"/>
<line x1="100.5" y1="499.5" x2="100.5" y2="501.9" stroke="#444" stroke-width="0.9"/>
<line x1="102.6" y1="499.5" x2="102.6" y2="501.9" stroke="#444" stroke-width="0.9"/>
<line x1="104.3" y1="499.5" x2="104.3" y2="501.9" stroke="#444" stroke-width="0.9"/>
<line x1="105.8" y1="499.5" x2="105.8" y2="501.9" stroke="#444" stroke-width="0.9"/>
<line x1="107.2" y1="499.5" x2="107.2" y2="503.9" stroke="#222" stroke-width="1.3"/>
<line x1="116.2" y1="499.5" x2="116.2" y2="501.9" stroke="#444" stroke-width="0.9"/>
<line x1="121.5" y1="499.5" x2="121.5" y2="501.9" stroke="#444" stroke-width="0.9"/>
<line x1="125.3" y1="499.5" x2="125.3" y2="501.9" stroke="#444" stroke-width="0.9"/>
<line x1="128.2" y1="499.5" x2="128.2" y2="502.7" stroke="#444" stroke-width="1.1"/>
<line x1="130.5" y1="499.5" x2="130.5" y2="501.9" stroke="#444" stroke-width="0.9"/>
<line x1="132.6" y1="499.5" x2="132.6" y2="501.9" stroke="#444" stroke-width="0.9"/>
<line x1="134.3" y1="499.5" x2="134.3" y2="501.9" stroke="#444" stroke-width="0.9"/>
<line x1="135.8" y1="499.5" x2="135.8" y2="501.9" stroke="#444" stroke-width="0.9"/>
<line x1="137.2" y1="499.5" x2="137.2" y2="503.9" stroke="#222" stroke-width="1.3"/>
<line x1="146.2" y1="499.5" x2="146.2" y2="501.9" stroke="#444" stroke-width="0.9"/>
<line x1="151.5" y1="499.5" x2="151.5" y2="501.9" stroke="#444" stroke-width="0.9"/>
<line x1="155.3" y1="499.5" x2="155.3" y2="501.9" stroke="#444" stroke-width="0.9"/>
<line x1="158.2" y1="499.5" x2="158.2" y2="502.7" stroke="#444" stroke-width="1.1"/>
<line x1="160.5" y1="499.5" x2="160.5" y2="501.9" stroke="#444" stroke-width="0.9"/>
<line x1="162.6" y1="499.5" x2="162.6" y2="501.9" stroke="#444" stroke-width="0.9"/>
<line x1="164.3" y1="499.5" x2="164.3" y2="501.9" stroke="#444" stroke-width="0.9"/>
<line x1="165.8" y1="499.5" x2="165.8" y2="501.9" stroke="#444" stroke-width="0.9"/>
<line x1="167.2" y1="499.5" x2="167.2" y2="503.9" stroke="#222" stroke-width="1.3"/>
<text class="san" x="49.4" y="513.7" font-size="7.6" font-weight="bold" fill="#000" stroke="#000" stroke-width="0.75" textLength="6.0" lengthAdjust="spacingAndGlyphs">10</text>
<text class="san" x="55.7" y="508.5" font-size="6.8" font-weight="bold" fill="#000" stroke="#000" stroke-width="0.5" textLength="3.0" lengthAdjust="spacingAndGlyphs">0</text>
<text class="san" x="75.4" y="513.7" font-size="7.6" font-weight="bold" fill="#000" stroke="#000" stroke-width="0.75" textLength="6.0" lengthAdjust="spacingAndGlyphs">10</text>
<text class="san" x="81.7" y="508.5" font-size="6.8" font-weight="bold" fill="#000" stroke="#000" stroke-width="0.5" textLength="3.0" lengthAdjust="spacingAndGlyphs">1</text>
<text class="san" x="104.6" y="513.7" font-size="7.6" font-weight="bold" fill="#000" stroke="#000" stroke-width="0.75" textLength="6.0" lengthAdjust="spacingAndGlyphs">10</text>
<text class="san" x="110.9" y="508.5" font-size="6.8" font-weight="bold" fill="#000" stroke="#000" stroke-width="0.5" textLength="3.0" lengthAdjust="spacingAndGlyphs">2</text>
<text class="san" x="134.6" y="513.7" font-size="7.6" font-weight="bold" fill="#000" stroke="#000" stroke-width="0.75" textLength="6.0" lengthAdjust="spacingAndGlyphs">10</text>
<text class="san" x="140.9" y="508.5" font-size="6.8" font-weight="bold" fill="#000" stroke="#000" stroke-width="0.5" textLength="3.0" lengthAdjust="spacingAndGlyphs">3</text>
<text class="san" x="163.0" y="513.7" font-size="7.6" font-weight="bold" fill="#000" stroke="#000" stroke-width="0.75" textLength="6.0" lengthAdjust="spacingAndGlyphs">10</text>
<text class="san" x="169.3" y="508.5" font-size="6.8" font-weight="bold" fill="#000" stroke="#000" stroke-width="0.5" textLength="3.0" lengthAdjust="spacingAndGlyphs">4</text>
<text class="san" x="38.400000000000006" y="499.9" font-size="7" font-weight="bold" fill="#000" stroke="#000" stroke-width="0.6">0</text>
<line x1="42.2" y1="499.5" x2="47.2" y2="499.5" stroke="#222" stroke-width="1.2"/>
<polygon points="182.7,497.8 182.7,414.7 182.7,483.0 183.7,483.0 185.3,482.2 187.0,483.8 188.7,485.5 190.3,481.3 192.0,478.0 193.7,473.0 195.3,469.7 196.7,463.0 198.0,459.7 199.7,456.3 201.3,449.7 203.0,441.3 204.7,433.0 206.3,424.7 208.0,416.3 209.7,408.0 211.3,398.0 212.5,389.7 213.3,383.8 214.2,383.0 215.3,383.8 216.7,384.7 218.0,389.7 219.2,394.7 220.3,399.7 221.3,403.0 222.5,401.3 223.7,403.0 224.7,408.0 225.8,414.7 227.0,418.0 228.3,419.7 229.2,421.3 230.0,428.0 231.3,434.7 232.5,439.7 233.7,444.7 235.0,451.3 236.3,458.0 237.5,464.7 238.7,469.7 240.0,473.0 241.7,474.7 243.3,474.7 244.7,478.0 245.8,479.7 247.5,481.3 249.2,483.0 251.3,483.8 253.3,484.7 255.0,486.3 256.7,487.2 258.3,488.8 260.0,490.5 261.7,492.2 263.3,493.0 265.0,493.8 266.7,494.7 268.3,495.5 270.0,496.3 272.5,497.7 276.7,497.8 283.3,497.8 293.3,497.8 301.7,497.8 301.7,497.8" fill="#e5e5e5"/>
<rect x="182.4" y="361.5" width="120.5" height="138.0" fill="none" stroke="#8a8a8a" stroke-width="1.6"/>
<polyline points="183.7,484.7 185.0,486.3 187.0,485.5 188.7,484.7 190.3,481.3 192.0,478.0 193.7,474.7 195.3,469.7 196.7,464.7 198.3,461.3 200.0,458.0 201.7,454.7 203.3,451.3 205.0,448.0 206.7,444.7 208.3,436.3 209.7,433.0 210.8,434.7 212.0,433.0 213.3,429.7 214.7,433.0 215.8,436.3 217.0,438.0 218.3,438.0 219.7,429.7 220.8,424.7 222.0,419.7 223.0,416.3 224.2,414.7 225.0,408.0 225.8,399.7 226.7,391.3 227.5,386.3 228.7,384.7 230.0,383.8 231.3,385.5 232.5,383.8 233.7,388.0 235.0,396.3 236.2,406.3 237.2,416.3 238.3,429.7 239.3,439.7 240.3,449.7 241.3,458.0 242.5,466.3 243.8,473.0 245.3,478.0 247.0,481.3 248.7,483.8 250.8,486.3 253.3,488.8 255.8,491.3 258.3,493.8 260.8,495.5 263.3,496.3 266.7,497.2 271.7,497.6 280.0,497.6 290.0,497.6 301.7,497.6" fill="none" stroke="#9a9a9a" stroke-width="1.4" stroke-linejoin="round"/>
<polyline points="182.7,414.7 182.7,483.0 183.7,483.0 185.3,482.2 187.0,483.8 188.7,485.5 190.3,481.3 192.0,478.0 193.7,473.0 195.3,469.7 196.7,463.0 198.0,459.7 199.7,456.3 201.3,449.7 203.0,441.3 204.7,433.0 206.3,424.7 208.0,416.3 209.7,408.0 211.3,398.0 212.5,389.7 213.3,383.8 214.2,383.0 215.3,383.8 216.7,384.7 218.0,389.7 219.2,394.7 220.3,399.7 221.3,403.0 222.5,401.3 223.7,403.0 224.7,408.0 225.8,414.7 227.0,418.0 228.3,419.7 229.2,421.3 230.0,428.0 231.3,434.7 232.5,439.7 233.7,444.7 235.0,451.3 236.3,458.0 237.5,464.7 238.7,469.7 240.0,473.0 241.7,474.7 243.3,474.7 244.7,478.0 245.8,479.7 247.5,481.3 249.2,483.0 251.3,483.8 253.3,484.7 255.0,486.3 256.7,487.2 258.3,488.8 260.0,490.5 261.7,492.2 263.3,493.0 265.0,493.8 266.7,494.7 268.3,495.5 270.0,496.3 272.5,497.6 276.7,497.6 283.3,497.6 293.3,497.6 301.7,497.6" fill="none" stroke="#404040" stroke-width="1.65" stroke-linejoin="round"/>
<line x1="179.4" y1="499.5" x2="303.7" y2="499.5" stroke="#6a6a6a" stroke-width="2"/>
<line x1="182.4" y1="499.5" x2="182.4" y2="503.9" stroke="#222" stroke-width="1.3"/>
<line x1="191.5" y1="499.5" x2="191.5" y2="501.9" stroke="#444" stroke-width="0.9"/>
<line x1="196.8" y1="499.5" x2="196.8" y2="501.9" stroke="#444" stroke-width="0.9"/>
<line x1="200.5" y1="499.5" x2="200.5" y2="501.9" stroke="#444" stroke-width="0.9"/>
<line x1="203.5" y1="499.5" x2="203.5" y2="502.7" stroke="#444" stroke-width="1.1"/>
<line x1="205.8" y1="499.5" x2="205.8" y2="501.9" stroke="#444" stroke-width="0.9"/>
<line x1="207.9" y1="499.5" x2="207.9" y2="501.9" stroke="#444" stroke-width="0.9"/>
<line x1="209.6" y1="499.5" x2="209.6" y2="501.9" stroke="#444" stroke-width="0.9"/>
<line x1="211.1" y1="499.5" x2="211.1" y2="501.9" stroke="#444" stroke-width="0.9"/>
<line x1="212.5" y1="499.5" x2="212.5" y2="503.9" stroke="#222" stroke-width="1.3"/>
<line x1="221.6" y1="499.5" x2="221.6" y2="501.9" stroke="#444" stroke-width="0.9"/>
<line x1="226.9" y1="499.5" x2="226.9" y2="501.9" stroke="#444" stroke-width="0.9"/>
<line x1="230.7" y1="499.5" x2="230.7" y2="501.9" stroke="#444" stroke-width="0.9"/>
<line x1="233.6" y1="499.5" x2="233.6" y2="502.7" stroke="#444" stroke-width="1.1"/>
<line x1="236.0" y1="499.5" x2="236.0" y2="501.9" stroke="#444" stroke-width="0.9"/>
<line x1="238.0" y1="499.5" x2="238.0" y2="501.9" stroke="#444" stroke-width="0.9"/>
<line x1="239.7" y1="499.5" x2="239.7" y2="501.9" stroke="#444" stroke-width="0.9"/>
<line x1="241.3" y1="499.5" x2="241.3" y2="501.9" stroke="#444" stroke-width="0.9"/>
<line x1="242.6" y1="499.5" x2="242.6" y2="503.9" stroke="#222" stroke-width="1.3"/>
<line x1="251.7" y1="499.5" x2="251.7" y2="501.9" stroke="#444" stroke-width="0.9"/>
<line x1="257.0" y1="499.5" x2="257.0" y2="501.9" stroke="#444" stroke-width="0.9"/>
<line x1="260.8" y1="499.5" x2="260.8" y2="501.9" stroke="#444" stroke-width="0.9"/>
<line x1="263.7" y1="499.5" x2="263.7" y2="502.7" stroke="#444" stroke-width="1.1"/>
<line x1="266.1" y1="499.5" x2="266.1" y2="501.9" stroke="#444" stroke-width="0.9"/>
<line x1="268.1" y1="499.5" x2="268.1" y2="501.9" stroke="#444" stroke-width="0.9"/>
<line x1="269.9" y1="499.5" x2="269.9" y2="501.9" stroke="#444" stroke-width="0.9"/>
<line x1="271.4" y1="499.5" x2="271.4" y2="501.9" stroke="#444" stroke-width="0.9"/>
<line x1="272.8" y1="499.5" x2="272.8" y2="503.9" stroke="#222" stroke-width="1.3"/>
<line x1="281.8" y1="499.5" x2="281.8" y2="501.9" stroke="#444" stroke-width="0.9"/>
<line x1="287.1" y1="499.5" x2="287.1" y2="501.9" stroke="#444" stroke-width="0.9"/>
<line x1="290.9" y1="499.5" x2="290.9" y2="501.9" stroke="#444" stroke-width="0.9"/>
<line x1="293.8" y1="499.5" x2="293.8" y2="502.7" stroke="#444" stroke-width="1.1"/>
<line x1="296.2" y1="499.5" x2="296.2" y2="501.9" stroke="#444" stroke-width="0.9"/>
<line x1="298.2" y1="499.5" x2="298.2" y2="501.9" stroke="#444" stroke-width="0.9"/>
<line x1="300.0" y1="499.5" x2="300.0" y2="501.9" stroke="#444" stroke-width="0.9"/>
<line x1="301.5" y1="499.5" x2="301.5" y2="501.9" stroke="#444" stroke-width="0.9"/>
<line x1="302.9" y1="499.5" x2="302.9" y2="503.9" stroke="#222" stroke-width="1.3"/>
<text class="san" x="184.6" y="513.7" font-size="7.6" font-weight="bold" fill="#000" stroke="#000" stroke-width="0.75" textLength="6.0" lengthAdjust="spacingAndGlyphs">10</text>
<text class="san" x="190.9" y="508.5" font-size="6.8" font-weight="bold" fill="#000" stroke="#000" stroke-width="0.5" textLength="3.0" lengthAdjust="spacingAndGlyphs">0</text>
<text class="san" x="210.7" y="513.7" font-size="7.6" font-weight="bold" fill="#000" stroke="#000" stroke-width="0.75" textLength="6.0" lengthAdjust="spacingAndGlyphs">10</text>
<text class="san" x="217.0" y="508.5" font-size="6.8" font-weight="bold" fill="#000" stroke="#000" stroke-width="0.5" textLength="3.0" lengthAdjust="spacingAndGlyphs">1</text>
<text class="san" x="240.0" y="513.7" font-size="7.6" font-weight="bold" fill="#000" stroke="#000" stroke-width="0.75" textLength="6.0" lengthAdjust="spacingAndGlyphs">10</text>
<text class="san" x="246.3" y="508.5" font-size="6.8" font-weight="bold" fill="#000" stroke="#000" stroke-width="0.5" textLength="3.0" lengthAdjust="spacingAndGlyphs">2</text>
<text class="san" x="270.2" y="513.7" font-size="7.6" font-weight="bold" fill="#000" stroke="#000" stroke-width="0.75" textLength="6.0" lengthAdjust="spacingAndGlyphs">10</text>
<text class="san" x="276.5" y="508.5" font-size="6.8" font-weight="bold" fill="#000" stroke="#000" stroke-width="0.5" textLength="3.0" lengthAdjust="spacingAndGlyphs">3</text>
<text class="san" x="298.7" y="513.7" font-size="7.6" font-weight="bold" fill="#000" stroke="#000" stroke-width="0.75" textLength="6.0" lengthAdjust="spacingAndGlyphs">10</text>
<text class="san" x="305.0" y="508.5" font-size="6.8" font-weight="bold" fill="#000" stroke="#000" stroke-width="0.5" textLength="3.0" lengthAdjust="spacingAndGlyphs">4</text>
<text class="san" x="173.4" y="499.5" font-size="7" font-weight="bold" fill="#8c8c8c">0</text>
<polygon points="318.5,497.8 318.5,376.3 318.5,487.2 319.3,488.0 321.0,487.2 322.7,485.5 324.3,483.0 326.0,481.3 327.7,479.7 329.3,476.3 331.0,473.0 332.7,469.7 334.3,464.7 336.0,459.7 337.7,454.7 339.3,449.7 340.7,443.0 341.8,439.7 343.0,438.0 344.3,436.3 345.7,433.0 346.8,426.3 348.0,421.3 349.3,413.0 350.7,408.0 351.8,399.7 353.0,393.0 354.0,388.0 355.2,386.3 356.0,381.3 356.8,378.8 357.7,378.0 358.5,379.7 359.3,386.3 360.2,392.2 361.0,393.0 361.8,399.7 363.0,411.3 364.3,423.0 365.5,433.0 366.5,444.7 367.7,454.7 369.0,466.3 370.2,474.7 371.3,481.3 372.7,485.5 374.3,488.0 376.0,488.8 377.7,488.0 379.3,487.2 381.0,488.8 382.7,490.5 384.3,492.2 386.0,493.0 388.0,493.8 390.2,493.8 392.3,494.7 394.3,495.5 396.3,496.3 398.5,497.2 401.0,497.8 404.3,497.8 411.0,497.8 424.3,497.8 437.4,497.8 437.4,497.8" fill="#e5e5e5"/>
<rect x="318.2" y="361.5" width="119.5" height="138.0" fill="none" stroke="#8a8a8a" stroke-width="1.6"/>
<polyline points="319.3,487.2 321.0,485.5 322.7,483.0 324.3,481.3 326.0,479.7 327.7,478.0 329.3,474.7 331.0,471.3 332.7,468.0 334.3,463.0 336.0,458.0 337.7,453.8 339.3,449.7 340.7,448.0 341.8,444.7 342.7,441.3 344.0,438.0 345.7,434.7 347.3,431.3 349.0,429.7 350.2,433.0 351.3,436.3 352.7,439.7 354.0,436.3 355.2,431.3 356.3,424.7 357.7,419.7 359.0,414.7 360.2,409.7 361.0,396.3 361.8,389.7 363.0,386.3 364.3,384.7 365.7,385.5 366.8,384.7 368.0,383.8 369.3,389.7 370.7,396.3 371.8,404.7 373.0,416.3 374.0,428.0 375.2,439.7 376.3,451.3 377.7,463.0 379.0,471.3 380.3,478.0 381.7,481.3 383.0,483.0 384.7,485.5 386.3,488.0 388.0,490.5 390.2,492.2 392.7,493.8 395.2,495.5 397.7,496.3 400.2,497.2 402.7,497.6 409.3,497.6 424.3,497.6 437.4,497.6" fill="none" stroke="#9a9a9a" stroke-width="1.4" stroke-linejoin="round"/>
<polyline points="318.5,376.3 318.5,487.2 319.3,488.0 321.0,487.2 322.7,485.5 324.3,483.0 326.0,481.3 327.7,479.7 329.3,476.3 331.0,473.0 332.7,469.7 334.3,464.7 336.0,459.7 337.7,454.7 339.3,449.7 340.7,443.0 341.8,439.7 343.0,438.0 344.3,436.3 345.7,433.0 346.8,426.3 348.0,421.3 349.3,413.0 350.7,408.0 351.8,399.7 353.0,393.0 354.0,388.0 355.2,386.3 356.0,381.3 356.8,378.8 357.7,378.0 358.5,379.7 359.3,386.3 360.2,392.2 361.0,393.0 361.8,399.7 363.0,411.3 364.3,423.0 365.5,433.0 366.5,444.7 367.7,454.7 369.0,466.3 370.2,474.7 371.3,481.3 372.7,485.5 374.3,488.0 376.0,488.8 377.7,488.0 379.3,487.2 381.0,488.8 382.7,490.5 384.3,492.2 386.0,493.0 388.0,493.8 390.2,493.8 392.3,494.7 394.3,495.5 396.3,496.3 398.5,497.2 401.0,497.6 404.3,497.6 411.0,497.6 424.3,497.6 437.4,497.6" fill="none" stroke="#404040" stroke-width="1.65" stroke-linejoin="round"/>
<line x1="315.2" y1="499.5" x2="438.5" y2="499.5" stroke="#6a6a6a" stroke-width="2"/>
<line x1="318.2" y1="499.5" x2="318.2" y2="503.9" stroke="#222" stroke-width="1.3"/>
<line x1="327.2" y1="499.5" x2="327.2" y2="501.9" stroke="#444" stroke-width="0.9"/>
<line x1="332.5" y1="499.5" x2="332.5" y2="501.9" stroke="#444" stroke-width="0.9"/>
<line x1="336.2" y1="499.5" x2="336.2" y2="501.9" stroke="#444" stroke-width="0.9"/>
<line x1="339.1" y1="499.5" x2="339.1" y2="502.7" stroke="#444" stroke-width="1.1"/>
<line x1="341.4" y1="499.5" x2="341.4" y2="501.9" stroke="#444" stroke-width="0.9"/>
<line x1="343.4" y1="499.5" x2="343.4" y2="501.9" stroke="#444" stroke-width="0.9"/>
<line x1="345.2" y1="499.5" x2="345.2" y2="501.9" stroke="#444" stroke-width="0.9"/>
<line x1="346.7" y1="499.5" x2="346.7" y2="501.9" stroke="#444" stroke-width="0.9"/>
<line x1="348.1" y1="499.5" x2="348.1" y2="503.9" stroke="#222" stroke-width="1.3"/>
<line x1="357.1" y1="499.5" x2="357.1" y2="501.9" stroke="#444" stroke-width="0.9"/>
<line x1="362.3" y1="499.5" x2="362.3" y2="501.9" stroke="#444" stroke-width="0.9"/>
<line x1="366.1" y1="499.5" x2="366.1" y2="501.9" stroke="#444" stroke-width="0.9"/>
<line x1="369.0" y1="499.5" x2="369.0" y2="502.7" stroke="#444" stroke-width="1.1"/>
<line x1="371.3" y1="499.5" x2="371.3" y2="501.9" stroke="#444" stroke-width="0.9"/>
<line x1="373.3" y1="499.5" x2="373.3" y2="501.9" stroke="#444" stroke-width="0.9"/>
<line x1="375.1" y1="499.5" x2="375.1" y2="501.9" stroke="#444" stroke-width="0.9"/>
<line x1="376.6" y1="499.5" x2="376.6" y2="501.9" stroke="#444" stroke-width="0.9"/>
<line x1="377.9" y1="499.5" x2="377.9" y2="503.9" stroke="#222" stroke-width="1.3"/>
<line x1="386.9" y1="499.5" x2="386.9" y2="501.9" stroke="#444" stroke-width="0.9"/>
<line x1="392.2" y1="499.5" x2="392.2" y2="501.9" stroke="#444" stroke-width="0.9"/>
<line x1="395.9" y1="499.5" x2="395.9" y2="501.9" stroke="#444" stroke-width="0.9"/>
<line x1="398.8" y1="499.5" x2="398.8" y2="502.7" stroke="#444" stroke-width="1.1"/>
<line x1="401.2" y1="499.5" x2="401.2" y2="501.9" stroke="#444" stroke-width="0.9"/>
<line x1="403.2" y1="499.5" x2="403.2" y2="501.9" stroke="#444" stroke-width="0.9"/>
<line x1="404.9" y1="499.5" x2="404.9" y2="501.9" stroke="#444" stroke-width="0.9"/>
<line x1="406.5" y1="499.5" x2="406.5" y2="501.9" stroke="#444" stroke-width="0.9"/>
<line x1="407.8" y1="499.5" x2="407.8" y2="503.9" stroke="#222" stroke-width="1.3"/>
<line x1="416.8" y1="499.5" x2="416.8" y2="501.9" stroke="#444" stroke-width="0.9"/>
<line x1="422.1" y1="499.5" x2="422.1" y2="501.9" stroke="#444" stroke-width="0.9"/>
<line x1="425.8" y1="499.5" x2="425.8" y2="501.9" stroke="#444" stroke-width="0.9"/>
<line x1="428.7" y1="499.5" x2="428.7" y2="502.7" stroke="#444" stroke-width="1.1"/>
<line x1="431.1" y1="499.5" x2="431.1" y2="501.9" stroke="#444" stroke-width="0.9"/>
<line x1="433.1" y1="499.5" x2="433.1" y2="501.9" stroke="#444" stroke-width="0.9"/>
<line x1="434.8" y1="499.5" x2="434.8" y2="501.9" stroke="#444" stroke-width="0.9"/>
<line x1="436.3" y1="499.5" x2="436.3" y2="501.9" stroke="#444" stroke-width="0.9"/>
<line x1="437.7" y1="499.5" x2="437.7" y2="503.9" stroke="#222" stroke-width="1.3"/>
<text class="san" x="320.4" y="513.7" font-size="7.6" font-weight="bold" fill="#000" stroke="#000" stroke-width="0.75" textLength="6.0" lengthAdjust="spacingAndGlyphs">10</text>
<text class="san" x="326.7" y="508.5" font-size="6.8" font-weight="bold" fill="#000" stroke="#000" stroke-width="0.5" textLength="3.0" lengthAdjust="spacingAndGlyphs">0</text>
<text class="san" x="346.3" y="513.7" font-size="7.6" font-weight="bold" fill="#000" stroke="#000" stroke-width="0.75" textLength="6.0" lengthAdjust="spacingAndGlyphs">10</text>
<text class="san" x="352.6" y="508.5" font-size="6.8" font-weight="bold" fill="#000" stroke="#000" stroke-width="0.5" textLength="3.0" lengthAdjust="spacingAndGlyphs">1</text>
<text class="san" x="375.3" y="513.7" font-size="7.6" font-weight="bold" fill="#000" stroke="#000" stroke-width="0.75" textLength="6.0" lengthAdjust="spacingAndGlyphs">10</text>
<text class="san" x="381.6" y="508.5" font-size="6.8" font-weight="bold" fill="#000" stroke="#000" stroke-width="0.5" textLength="3.0" lengthAdjust="spacingAndGlyphs">2</text>
<text class="san" x="405.2" y="513.7" font-size="7.6" font-weight="bold" fill="#000" stroke="#000" stroke-width="0.75" textLength="6.0" lengthAdjust="spacingAndGlyphs">10</text>
<text class="san" x="411.5" y="508.5" font-size="6.8" font-weight="bold" fill="#000" stroke="#000" stroke-width="0.5" textLength="3.0" lengthAdjust="spacingAndGlyphs">3</text>
<text class="san" x="433.5" y="513.7" font-size="7.6" font-weight="bold" fill="#000" stroke="#000" stroke-width="0.75" textLength="6.0" lengthAdjust="spacingAndGlyphs">10</text>
<text class="san" x="439.8" y="508.5" font-size="6.8" font-weight="bold" fill="#000" stroke="#000" stroke-width="0.5" textLength="3.0" lengthAdjust="spacingAndGlyphs">4</text>
<text class="san" x="309.2" y="499.5" font-size="7" font-weight="bold" fill="#8c8c8c">0</text>
<polygon points="454.4,497.8 454.4,419.7 454.4,479.7 455.3,481.3 456.7,479.7 458.3,476.3 460.0,471.3 461.7,466.3 463.3,463.0 465.0,459.7 466.7,456.3 468.3,451.3 470.0,446.3 471.2,441.3 472.3,433.0 473.3,424.7 474.5,416.3 475.7,409.7 477.0,404.7 478.3,401.3 479.2,396.3 480.0,386.3 480.8,385.5 481.7,389.7 482.8,391.3 483.7,390.5 484.5,388.0 485.3,389.7 486.2,394.7 487.3,399.7 488.7,402.2 490.0,404.7 491.2,408.0 492.3,413.0 493.3,418.0 494.0,426.3 495.0,433.0 496.2,439.7 497.3,440.5 498.3,443.0 499.5,449.7 500.7,456.3 502.0,463.0 503.3,469.7 504.5,474.7 505.7,479.7 507.0,482.2 508.7,483.8 510.3,486.3 512.0,488.8 513.7,490.5 515.3,491.3 517.0,489.7 518.7,488.8 520.3,487.2 522.0,486.3 523.7,487.2 525.3,486.3 527.3,485.5 528.7,483.8 530.0,485.5 531.2,487.2 532.8,488.0 534.5,488.3 536.2,490.5 537.8,493.0 539.5,494.7 541.2,495.5 542.8,496.3 544.5,497.2 547.0,497.8 552.0,497.8 562.0,497.8 573.7,497.8 573.7,497.8" fill="#e5e5e5"/>
<rect x="454.1" y="361.5" width="120.3" height="138.0" fill="none" stroke="#8a8a8a" stroke-width="1.6"/>
<polyline points="455.3,488.0 457.0,487.2 459.0,485.5 460.7,483.0 462.3,481.3 464.0,479.7 465.7,476.3 467.3,473.0 469.0,469.7 470.7,466.3 472.3,463.0 474.0,459.7 475.7,456.3 477.0,449.7 478.3,448.0 479.5,441.3 480.7,436.3 481.7,434.7 482.8,433.0 484.5,429.7 485.7,431.3 487.0,434.7 488.3,438.0 489.5,439.7 490.7,433.0 492.0,426.3 493.3,421.3 494.5,418.0 495.7,414.7 496.7,404.7 497.3,396.3 498.3,389.7 499.5,385.5 500.7,383.8 502.0,384.7 503.3,385.5 504.5,384.7 505.7,389.7 506.7,398.0 507.8,408.0 509.0,419.7 510.0,433.0 511.2,446.3 512.3,456.3 513.7,464.7 515.0,471.3 516.3,478.0 517.8,481.3 519.5,483.0 521.2,483.8 522.8,484.7 524.5,486.3 526.2,488.0 527.8,489.7 530.3,492.2 532.8,493.8 535.3,495.5 537.8,496.3 540.3,497.2 543.7,497.6 552.0,497.6 565.3,497.6 573.7,497.6" fill="none" stroke="#9a9a9a" stroke-width="1.4" stroke-linejoin="round"/>
<polyline points="454.4,419.7 454.4,479.7 455.3,481.3 456.7,479.7 458.3,476.3 460.0,471.3 461.7,466.3 463.3,463.0 465.0,459.7 466.7,456.3 468.3,451.3 470.0,446.3 471.2,441.3 472.3,433.0 473.3,424.7 474.5,416.3 475.7,409.7 477.0,404.7 478.3,401.3 479.2,396.3 480.0,386.3 480.8,385.5 481.7,389.7 482.8,391.3 483.7,390.5 484.5,388.0 485.3,389.7 486.2,394.7 487.3,399.7 488.7,402.2 490.0,404.7 491.2,408.0 492.3,413.0 493.3,418.0 494.0,426.3 495.0,433.0 496.2,439.7 497.3,440.5 498.3,443.0 499.5,449.7 500.7,456.3 502.0,463.0 503.3,469.7 504.5,474.7 505.7,479.7 507.0,482.2 508.7,483.8 510.3,486.3 512.0,488.8 513.7,490.5 515.3,491.3 517.0,489.7 518.7,488.8 520.3,487.2 522.0,486.3 523.7,487.2 525.3,486.3 527.3,485.5 528.7,483.8 530.0,485.5 531.2,487.2 532.8,488.0 534.5,488.3 536.2,490.5 537.8,493.0 539.5,494.7 541.2,495.5 542.8,496.3 544.5,497.2 547.0,497.6 552.0,497.6 562.0,497.6 573.7,497.6" fill="none" stroke="#404040" stroke-width="1.65" stroke-linejoin="round"/>
<line x1="451.1" y1="499.5" x2="575.1999999999999" y2="499.5" stroke="#6a6a6a" stroke-width="2"/>
<line x1="454.1" y1="499.5" x2="454.1" y2="503.9" stroke="#222" stroke-width="1.3"/>
<line x1="463.2" y1="499.5" x2="463.2" y2="501.9" stroke="#444" stroke-width="0.9"/>
<line x1="468.4" y1="499.5" x2="468.4" y2="501.9" stroke="#444" stroke-width="0.9"/>
<line x1="472.2" y1="499.5" x2="472.2" y2="501.9" stroke="#444" stroke-width="0.9"/>
<line x1="475.1" y1="499.5" x2="475.1" y2="502.7" stroke="#444" stroke-width="1.1"/>
<line x1="477.5" y1="499.5" x2="477.5" y2="501.9" stroke="#444" stroke-width="0.9"/>
<line x1="479.5" y1="499.5" x2="479.5" y2="501.9" stroke="#444" stroke-width="0.9"/>
<line x1="481.3" y1="499.5" x2="481.3" y2="501.9" stroke="#444" stroke-width="0.9"/>
<line x1="482.8" y1="499.5" x2="482.8" y2="501.9" stroke="#444" stroke-width="0.9"/>
<line x1="484.2" y1="499.5" x2="484.2" y2="503.9" stroke="#222" stroke-width="1.3"/>
<line x1="493.2" y1="499.5" x2="493.2" y2="501.9" stroke="#444" stroke-width="0.9"/>
<line x1="498.5" y1="499.5" x2="498.5" y2="501.9" stroke="#444" stroke-width="0.9"/>
<line x1="502.3" y1="499.5" x2="502.3" y2="501.9" stroke="#444" stroke-width="0.9"/>
<line x1="505.2" y1="499.5" x2="505.2" y2="502.7" stroke="#444" stroke-width="1.1"/>
<line x1="507.6" y1="499.5" x2="507.6" y2="501.9" stroke="#444" stroke-width="0.9"/>
<line x1="509.6" y1="499.5" x2="509.6" y2="501.9" stroke="#444" stroke-width="0.9"/>
<line x1="511.3" y1="499.5" x2="511.3" y2="501.9" stroke="#444" stroke-width="0.9"/>
<line x1="512.9" y1="499.5" x2="512.9" y2="501.9" stroke="#444" stroke-width="0.9"/>
<line x1="514.2" y1="499.5" x2="514.2" y2="503.9" stroke="#222" stroke-width="1.3"/>
<line x1="523.3" y1="499.5" x2="523.3" y2="501.9" stroke="#444" stroke-width="0.9"/>
<line x1="528.6" y1="499.5" x2="528.6" y2="501.9" stroke="#444" stroke-width="0.9"/>
<line x1="532.4" y1="499.5" x2="532.4" y2="501.9" stroke="#444" stroke-width="0.9"/>
<line x1="535.3" y1="499.5" x2="535.3" y2="502.7" stroke="#444" stroke-width="1.1"/>
<line x1="537.7" y1="499.5" x2="537.7" y2="501.9" stroke="#444" stroke-width="0.9"/>
<line x1="539.7" y1="499.5" x2="539.7" y2="501.9" stroke="#444" stroke-width="0.9"/>
<line x1="541.4" y1="499.5" x2="541.4" y2="501.9" stroke="#444" stroke-width="0.9"/>
<line x1="542.9" y1="499.5" x2="542.9" y2="501.9" stroke="#444" stroke-width="0.9"/>
<line x1="544.3" y1="499.5" x2="544.3" y2="503.9" stroke="#222" stroke-width="1.3"/>
<line x1="553.4" y1="499.5" x2="553.4" y2="501.9" stroke="#444" stroke-width="0.9"/>
<line x1="558.7" y1="499.5" x2="558.7" y2="501.9" stroke="#444" stroke-width="0.9"/>
<line x1="562.4" y1="499.5" x2="562.4" y2="501.9" stroke="#444" stroke-width="0.9"/>
<line x1="565.3" y1="499.5" x2="565.3" y2="502.7" stroke="#444" stroke-width="1.1"/>
<line x1="567.7" y1="499.5" x2="567.7" y2="501.9" stroke="#444" stroke-width="0.9"/>
<line x1="569.7" y1="499.5" x2="569.7" y2="501.9" stroke="#444" stroke-width="0.9"/>
<line x1="571.5" y1="499.5" x2="571.5" y2="501.9" stroke="#444" stroke-width="0.9"/>
<line x1="573.0" y1="499.5" x2="573.0" y2="501.9" stroke="#444" stroke-width="0.9"/>
<line x1="574.4" y1="499.5" x2="574.4" y2="503.9" stroke="#222" stroke-width="1.3"/>
<text class="san" x="456.3" y="513.7" font-size="7.6" font-weight="bold" fill="#000" stroke="#000" stroke-width="0.75" textLength="6.0" lengthAdjust="spacingAndGlyphs">10</text>
<text class="san" x="462.6" y="508.5" font-size="6.8" font-weight="bold" fill="#000" stroke="#000" stroke-width="0.5" textLength="3.0" lengthAdjust="spacingAndGlyphs">0</text>
<text class="san" x="482.4" y="513.7" font-size="7.6" font-weight="bold" fill="#000" stroke="#000" stroke-width="0.75" textLength="6.0" lengthAdjust="spacingAndGlyphs">10</text>
<text class="san" x="488.7" y="508.5" font-size="6.8" font-weight="bold" fill="#000" stroke="#000" stroke-width="0.5" textLength="3.0" lengthAdjust="spacingAndGlyphs">1</text>
<text class="san" x="511.6" y="513.7" font-size="7.6" font-weight="bold" fill="#000" stroke="#000" stroke-width="0.75" textLength="6.0" lengthAdjust="spacingAndGlyphs">10</text>
<text class="san" x="517.9" y="508.5" font-size="6.8" font-weight="bold" fill="#000" stroke="#000" stroke-width="0.5" textLength="3.0" lengthAdjust="spacingAndGlyphs">2</text>
<text class="san" x="541.7" y="513.7" font-size="7.6" font-weight="bold" fill="#000" stroke="#000" stroke-width="0.75" textLength="6.0" lengthAdjust="spacingAndGlyphs">10</text>
<text class="san" x="548.0" y="508.5" font-size="6.8" font-weight="bold" fill="#000" stroke="#000" stroke-width="0.5" textLength="3.0" lengthAdjust="spacingAndGlyphs">3</text>
<text class="san" x="570.2" y="513.7" font-size="7.6" font-weight="bold" fill="#000" stroke="#000" stroke-width="0.75" textLength="6.0" lengthAdjust="spacingAndGlyphs">10</text>
<text class="san" x="576.5" y="508.5" font-size="6.8" font-weight="bold" fill="#000" stroke="#000" stroke-width="0.5" textLength="3.0" lengthAdjust="spacingAndGlyphs">4</text>
<text class="san" x="445.1" y="499.5" font-size="7" font-weight="bold" fill="#8c8c8c">0</text>
<polygon points="589.4,497.8 589.4,416.3 589.4,483.0 590.3,484.7 591.7,485.5 593.3,483.0 595.0,478.0 596.7,471.3 598.3,463.0 600.0,453.0 601.7,443.0 603.3,433.0 605.0,423.0 606.2,414.7 607.3,404.7 608.3,396.3 609.3,389.7 610.3,386.3 611.2,384.7 612.0,381.3 612.8,376.3 613.7,374.7 614.5,374.3 615.3,375.5 616.2,378.8 617.0,383.0 617.8,389.7 619.0,398.0 620.0,406.3 621.2,418.0 622.3,429.7 623.3,439.7 624.5,449.7 625.7,459.7 627.0,469.7 628.3,478.0 630.0,483.0 631.7,486.3 633.3,488.8 635.3,490.5 637.0,491.3 639.0,491.3 641.2,492.2 643.7,493.0 646.2,493.0 648.7,493.8 651.2,493.8 653.7,493.8 657.0,494.7 660.3,494.7 663.7,493.8 666.2,493.8 668.7,494.3 671.2,494.7 673.7,495.5 676.2,496.3 677.8,497.2 680.3,497.8 687.0,497.8 700.3,497.8 708.7,497.8 708.7,497.8" fill="#e5e5e5"/>
<rect x="589.1" y="361.5" width="121.3" height="138.0" fill="none" stroke="#8a8a8a" stroke-width="1.6"/>
<polyline points="590.3,471.3 592.0,469.7 593.7,464.7 595.3,458.0 597.0,451.3 598.7,444.7 600.3,439.7 602.0,429.7 603.3,418.0 604.2,411.3 605.0,410.5 605.7,413.0 606.7,408.0 607.8,396.3 608.7,384.7 609.5,380.5 610.3,379.7 611.2,384.7 612.0,389.7 612.8,396.3 613.7,406.3 614.5,411.3 615.3,414.7 616.7,414.7 617.8,421.3 619.0,428.0 620.0,434.7 621.2,441.3 622.3,446.3 623.7,448.0 625.0,451.3 626.2,454.7 627.3,461.3 628.7,468.0 630.0,473.0 631.7,476.3 633.3,478.0 635.3,478.8 637.0,480.5 638.7,481.3 640.3,482.2 642.0,480.5 643.3,479.7 644.5,478.0 645.7,477.2 647.0,480.5 648.7,482.2 650.3,483.8 652.3,485.5 654.0,486.3 655.7,486.3 657.3,488.0 659.0,489.7 660.7,491.3 662.3,492.2 664.0,492.7 666.2,493.8 668.7,494.7 671.2,495.5 673.7,496.3 676.2,497.2 678.7,497.6 687.0,497.6 700.3,497.6 708.7,497.6" fill="none" stroke="#9a9a9a" stroke-width="1.4" stroke-linejoin="round"/>
<polyline points="589.4,416.3 589.4,483.0 590.3,484.7 591.7,485.5 593.3,483.0 595.0,478.0 596.7,471.3 598.3,463.0 600.0,453.0 601.7,443.0 603.3,433.0 605.0,423.0 606.2,414.7 607.3,404.7 608.3,396.3 609.3,389.7 610.3,386.3 611.2,384.7 612.0,381.3 612.8,376.3 613.7,374.7 614.5,374.3 615.3,375.5 616.2,378.8 617.0,383.0 617.8,389.7 619.0,398.0 620.0,406.3 621.2,418.0 622.3,429.7 623.3,439.7 624.5,449.7 625.7,459.7 627.0,469.7 628.3,478.0 630.0,483.0 631.7,486.3 633.3,488.8 635.3,490.5 637.0,491.3 639.0,491.3 641.2,492.2 643.7,493.0 646.2,493.0 648.7,493.8 651.2,493.8 653.7,493.8 657.0,494.7 660.3,494.7 663.7,493.8 666.2,493.8 668.7,494.3 671.2,494.7 673.7,495.5 676.2,496.3 677.8,497.2 680.3,497.6 687.0,497.6 700.3,497.6 708.7,497.6" fill="none" stroke="#404040" stroke-width="1.65" stroke-linejoin="round"/>
<line x1="586.1" y1="499.5" x2="711.1999999999999" y2="499.5" stroke="#6a6a6a" stroke-width="2"/>
<line x1="589.1" y1="499.5" x2="589.1" y2="503.9" stroke="#222" stroke-width="1.3"/>
<line x1="598.2" y1="499.5" x2="598.2" y2="501.9" stroke="#444" stroke-width="0.9"/>
<line x1="603.6" y1="499.5" x2="603.6" y2="501.9" stroke="#444" stroke-width="0.9"/>
<line x1="607.4" y1="499.5" x2="607.4" y2="501.9" stroke="#444" stroke-width="0.9"/>
<line x1="610.3" y1="499.5" x2="610.3" y2="502.7" stroke="#444" stroke-width="1.1"/>
<line x1="612.7" y1="499.5" x2="612.7" y2="501.9" stroke="#444" stroke-width="0.9"/>
<line x1="614.7" y1="499.5" x2="614.7" y2="501.9" stroke="#444" stroke-width="0.9"/>
<line x1="616.5" y1="499.5" x2="616.5" y2="501.9" stroke="#444" stroke-width="0.9"/>
<line x1="618.0" y1="499.5" x2="618.0" y2="501.9" stroke="#444" stroke-width="0.9"/>
<line x1="619.4" y1="499.5" x2="619.4" y2="503.9" stroke="#222" stroke-width="1.3"/>
<line x1="628.6" y1="499.5" x2="628.6" y2="501.9" stroke="#444" stroke-width="0.9"/>
<line x1="633.9" y1="499.5" x2="633.9" y2="501.9" stroke="#444" stroke-width="0.9"/>
<line x1="637.7" y1="499.5" x2="637.7" y2="501.9" stroke="#444" stroke-width="0.9"/>
<line x1="640.6" y1="499.5" x2="640.6" y2="502.7" stroke="#444" stroke-width="1.1"/>
<line x1="643.0" y1="499.5" x2="643.0" y2="501.9" stroke="#444" stroke-width="0.9"/>
<line x1="645.1" y1="499.5" x2="645.1" y2="501.9" stroke="#444" stroke-width="0.9"/>
<line x1="646.8" y1="499.5" x2="646.8" y2="501.9" stroke="#444" stroke-width="0.9"/>
<line x1="648.4" y1="499.5" x2="648.4" y2="501.9" stroke="#444" stroke-width="0.9"/>
<line x1="649.8" y1="499.5" x2="649.8" y2="503.9" stroke="#222" stroke-width="1.3"/>
<line x1="658.9" y1="499.5" x2="658.9" y2="501.9" stroke="#444" stroke-width="0.9"/>
<line x1="664.2" y1="499.5" x2="664.2" y2="501.9" stroke="#444" stroke-width="0.9"/>
<line x1="668.0" y1="499.5" x2="668.0" y2="501.9" stroke="#444" stroke-width="0.9"/>
<line x1="670.9" y1="499.5" x2="670.9" y2="502.7" stroke="#444" stroke-width="1.1"/>
<line x1="673.3" y1="499.5" x2="673.3" y2="501.9" stroke="#444" stroke-width="0.9"/>
<line x1="675.4" y1="499.5" x2="675.4" y2="501.9" stroke="#444" stroke-width="0.9"/>
<line x1="677.1" y1="499.5" x2="677.1" y2="501.9" stroke="#444" stroke-width="0.9"/>
<line x1="678.7" y1="499.5" x2="678.7" y2="501.9" stroke="#444" stroke-width="0.9"/>
<line x1="680.1" y1="499.5" x2="680.1" y2="503.9" stroke="#222" stroke-width="1.3"/>
<line x1="689.2" y1="499.5" x2="689.2" y2="501.9" stroke="#444" stroke-width="0.9"/>
<line x1="694.5" y1="499.5" x2="694.5" y2="501.9" stroke="#444" stroke-width="0.9"/>
<line x1="698.3" y1="499.5" x2="698.3" y2="501.9" stroke="#444" stroke-width="0.9"/>
<line x1="701.3" y1="499.5" x2="701.3" y2="502.7" stroke="#444" stroke-width="1.1"/>
<line x1="703.7" y1="499.5" x2="703.7" y2="501.9" stroke="#444" stroke-width="0.9"/>
<line x1="705.7" y1="499.5" x2="705.7" y2="501.9" stroke="#444" stroke-width="0.9"/>
<line x1="707.5" y1="499.5" x2="707.5" y2="501.9" stroke="#444" stroke-width="0.9"/>
<line x1="709.0" y1="499.5" x2="709.0" y2="501.9" stroke="#444" stroke-width="0.9"/>
<line x1="710.4" y1="499.5" x2="710.4" y2="503.9" stroke="#222" stroke-width="1.3"/>
<text class="san" x="591.3" y="513.7" font-size="7.6" font-weight="bold" fill="#000" stroke="#000" stroke-width="0.75" textLength="6.0" lengthAdjust="spacingAndGlyphs">10</text>
<text class="san" x="597.6" y="508.5" font-size="6.8" font-weight="bold" fill="#000" stroke="#000" stroke-width="0.5" textLength="3.0" lengthAdjust="spacingAndGlyphs">0</text>
<text class="san" x="617.6" y="513.7" font-size="7.6" font-weight="bold" fill="#000" stroke="#000" stroke-width="0.75" textLength="6.0" lengthAdjust="spacingAndGlyphs">10</text>
<text class="san" x="623.9" y="508.5" font-size="6.8" font-weight="bold" fill="#000" stroke="#000" stroke-width="0.5" textLength="3.0" lengthAdjust="spacingAndGlyphs">1</text>
<text class="san" x="647.1" y="513.7" font-size="7.6" font-weight="bold" fill="#000" stroke="#000" stroke-width="0.75" textLength="6.0" lengthAdjust="spacingAndGlyphs">10</text>
<text class="san" x="653.4" y="508.5" font-size="6.8" font-weight="bold" fill="#000" stroke="#000" stroke-width="0.5" textLength="3.0" lengthAdjust="spacingAndGlyphs">2</text>
<text class="san" x="677.5" y="513.7" font-size="7.6" font-weight="bold" fill="#000" stroke="#000" stroke-width="0.75" textLength="6.0" lengthAdjust="spacingAndGlyphs">10</text>
<text class="san" x="683.8" y="508.5" font-size="6.8" font-weight="bold" fill="#000" stroke="#000" stroke-width="0.5" textLength="3.0" lengthAdjust="spacingAndGlyphs">3</text>
<text class="san" x="706.2" y="513.7" font-size="7.6" font-weight="bold" fill="#000" stroke="#000" stroke-width="0.75" textLength="6.0" lengthAdjust="spacingAndGlyphs">10</text>
<text class="san" x="712.5" y="508.5" font-size="6.8" font-weight="bold" fill="#000" stroke="#000" stroke-width="0.5" textLength="3.0" lengthAdjust="spacingAndGlyphs">4</text>
<text class="san" x="580.1" y="499.5" font-size="7" font-weight="bold" fill="#8c8c8c">0</text>
<text class="san" x="0.3" y="581.7" font-size="23.5" font-weight="bold" fill="#000">B</text>
<line x1="82.2" y1="584.6" x2="82.2" y2="885.6" stroke="#8c8c8c" stroke-width="1.3"/>
<line x1="75.6" y1="885.6" x2="82.1" y2="885.6" stroke="#8c8c8c" stroke-width="1.3"/>
<text class="san" x="64.6" y="892.1" font-size="18" text-anchor="end" fill="#000">0</text>
<line x1="75.6" y1="848.0" x2="82.1" y2="848.0" stroke="#8c8c8c" stroke-width="1.3"/>
<text class="san" x="64.6" y="854.5" font-size="18" text-anchor="end" fill="#000">5</text>
<line x1="75.6" y1="810.4" x2="82.1" y2="810.4" stroke="#8c8c8c" stroke-width="1.3"/>
<text class="san" x="64.6" y="816.9" font-size="18" text-anchor="end" fill="#000">10</text>
<line x1="75.6" y1="772.7" x2="82.1" y2="772.7" stroke="#8c8c8c" stroke-width="1.3"/>
<text class="san" x="64.6" y="779.2" font-size="18" text-anchor="end" fill="#000">15</text>
<line x1="75.6" y1="735.1" x2="82.1" y2="735.1" stroke="#8c8c8c" stroke-width="1.3"/>
<text class="san" x="64.6" y="741.6" font-size="18" text-anchor="end" fill="#000">20</text>
<line x1="75.6" y1="697.5" x2="82.1" y2="697.5" stroke="#8c8c8c" stroke-width="1.3"/>
<text class="san" x="64.6" y="704.0" font-size="18" text-anchor="end" fill="#000">25</text>
<line x1="75.6" y1="659.9" x2="82.1" y2="659.9" stroke="#8c8c8c" stroke-width="1.3"/>
<text class="san" x="64.6" y="666.4" font-size="18" text-anchor="end" fill="#000">30</text>
<line x1="75.6" y1="622.2" x2="82.1" y2="622.2" stroke="#8c8c8c" stroke-width="1.3"/>
<text class="san" x="64.6" y="628.7" font-size="18" text-anchor="end" fill="#000">35</text>
<line x1="75.6" y1="584.6" x2="82.1" y2="584.6" stroke="#8c8c8c" stroke-width="1.3"/>
<text class="san" x="64.6" y="591.1" font-size="18" text-anchor="end" fill="#000">40</text>
<text class="san" transform="translate(36,736) rotate(-90)" text-anchor="middle" font-size="18" fill="#000" textLength="61.5" lengthAdjust="spacingAndGlyphs">% Cells</text>
<polyline points="104.75,885.6 104.75,708.0 133.50,708.0 133.50,885.6" fill="none" stroke="#000" stroke-width="1.3"/>
<rect x="133.50" y="715.5" width="28.70" height="170.1" fill="#6e6e6e"/>
<rect x="162.20" y="633.5" width="28.00" height="252.1" fill="#000"/>
<line x1="119.1" y1="793.8" x2="119.1" y2="624.5" stroke="#000" stroke-width="1.3"/>
<line x1="114.6" y1="793.8" x2="123.6" y2="793.8" stroke="#000" stroke-width="1.3"/>
<line x1="114.6" y1="624.5" x2="123.6" y2="624.5" stroke="#000" stroke-width="1.3"/>
<line x1="148.6" y1="819.4" x2="148.6" y2="613.2" stroke="#000" stroke-width="1.3"/>
<line x1="144.1" y1="819.4" x2="153.1" y2="819.4" stroke="#000" stroke-width="1.3"/>
<line x1="144.1" y1="613.2" x2="153.1" y2="613.2" stroke="#000" stroke-width="1.3"/>
<line x1="176.7" y1="662.1" x2="176.7" y2="604.9" stroke="#000" stroke-width="1.3"/>
<line x1="172.2" y1="662.1" x2="181.2" y2="662.1" stroke="#000" stroke-width="1.3"/>
<line x1="172.2" y1="604.9" x2="181.2" y2="604.9" stroke="#000" stroke-width="1.3"/>
<polyline points="234.45,885.6 234.45,883.0 263.20,883.0 263.20,885.6" fill="none" stroke="#000" stroke-width="1.3"/>
<rect x="263.20" y="865.3" width="28.70" height="20.3" fill="#6e6e6e"/>
<rect x="291.90" y="857.4" width="28.00" height="28.2" fill="#000"/>
<line x1="248.8" y1="884.1" x2="248.8" y2="881.8" stroke="#000" stroke-width="1.3"/>
<line x1="244.3" y1="884.1" x2="253.3" y2="884.1" stroke="#000" stroke-width="1.3"/>
<line x1="244.3" y1="881.8" x2="253.3" y2="881.8" stroke="#000" stroke-width="1.3"/>
<line x1="278.3" y1="872.8" x2="278.3" y2="858.5" stroke="#000" stroke-width="1.3"/>
<line x1="273.8" y1="872.8" x2="282.8" y2="872.8" stroke="#000" stroke-width="1.3"/>
<line x1="273.8" y1="858.5" x2="282.8" y2="858.5" stroke="#000" stroke-width="1.3"/>
<line x1="306.4" y1="876.6" x2="306.4" y2="838.2" stroke="#000" stroke-width="1.3"/>
<line x1="301.9" y1="876.6" x2="310.9" y2="876.6" stroke="#000" stroke-width="1.3"/>
<line x1="301.9" y1="838.2" x2="310.9" y2="838.2" stroke="#000" stroke-width="1.3"/>
<polyline points="364.15,885.6 364.15,853.6 392.90,853.6 392.90,885.6" fill="none" stroke="#000" stroke-width="1.3"/>
<rect x="392.90" y="879.1" width="28.70" height="6.5" fill="#6e6e6e"/>
<rect x="421.60" y="856.3" width="28.00" height="29.3" fill="#000"/>
<line x1="378.5" y1="869.0" x2="378.5" y2="838.4" stroke="#000" stroke-width="1.3"/>
<line x1="374.0" y1="869.0" x2="383.0" y2="869.0" stroke="#000" stroke-width="1.3"/>
<line x1="374.0" y1="838.4" x2="383.0" y2="838.4" stroke="#000" stroke-width="1.3"/>
<line x1="408.0" y1="880.6" x2="408.0" y2="877.7" stroke="#000" stroke-width="1.3"/>
<line x1="403.5" y1="880.6" x2="412.5" y2="880.6" stroke="#000" stroke-width="1.3"/>
<line x1="403.5" y1="877.7" x2="412.5" y2="877.7" stroke="#000" stroke-width="1.3"/>
<line x1="436.1" y1="867.5" x2="436.1" y2="844.7" stroke="#000" stroke-width="1.3"/>
<line x1="431.6" y1="867.5" x2="440.6" y2="867.5" stroke="#000" stroke-width="1.3"/>
<line x1="431.6" y1="844.7" x2="440.6" y2="844.7" stroke="#000" stroke-width="1.3"/>
<polyline points="493.85,885.6 493.85,884.1 522.60,884.1 522.60,885.6" fill="none" stroke="#000" stroke-width="1.3"/>
<rect x="522.60" y="797.6" width="28.70" height="88.0" fill="#6e6e6e"/>
<rect x="551.30" y="832.2" width="28.00" height="53.4" fill="#000"/>
<line x1="537.7" y1="881.8" x2="537.7" y2="713.3" stroke="#000" stroke-width="1.3"/>
<line x1="533.2" y1="881.8" x2="542.2" y2="881.8" stroke="#000" stroke-width="1.3"/>
<line x1="533.2" y1="713.3" x2="542.2" y2="713.3" stroke="#000" stroke-width="1.3"/>
<line x1="565.8" y1="880.3" x2="565.8" y2="783.3" stroke="#000" stroke-width="1.3"/>
<line x1="561.3" y1="880.3" x2="570.3" y2="880.3" stroke="#000" stroke-width="1.3"/>
<line x1="561.3" y1="783.3" x2="570.3" y2="783.3" stroke="#000" stroke-width="1.3"/>
<polyline points="623.55,885.6 623.55,747.9 652.30,747.9 652.30,885.6" fill="none" stroke="#000" stroke-width="1.3"/>
<rect x="652.30" y="729.8" width="28.70" height="155.8" fill="#6e6e6e"/>
<rect x="681.00" y="751.7" width="28.00" height="133.9" fill="#000"/>
<line x1="637.9" y1="830.7" x2="637.9" y2="665.9" stroke="#000" stroke-width="1.3"/>
<line x1="633.4" y1="830.7" x2="642.4" y2="830.7" stroke="#000" stroke-width="1.3"/>
<line x1="633.4" y1="665.9" x2="642.4" y2="665.9" stroke="#000" stroke-width="1.3"/>
<line x1="667.4" y1="851.0" x2="667.4" y2="608.7" stroke="#000" stroke-width="1.3"/>
<line x1="662.9" y1="851.0" x2="671.9" y2="851.0" stroke="#000" stroke-width="1.3"/>
<line x1="662.9" y1="608.7" x2="671.9" y2="608.7" stroke="#000" stroke-width="1.3"/>
<line x1="695.5" y1="860.8" x2="695.5" y2="642.5" stroke="#000" stroke-width="1.3"/>
<line x1="691.0" y1="860.8" x2="700.0" y2="860.8" stroke="#000" stroke-width="1.3"/>
<line x1="691.0" y1="642.5" x2="700.0" y2="642.5" stroke="#000" stroke-width="1.3"/>
<line x1="82.3" y1="885.6" x2="731.8" y2="885.6" stroke="#8c8c8c" stroke-width="1.3"/>
<line x1="82.3" y1="885.6" x2="82.3" y2="892.1" stroke="#8c8c8c" stroke-width="1.3"/>
<line x1="212.2" y1="885.6" x2="212.2" y2="892.1" stroke="#8c8c8c" stroke-width="1.3"/>
<line x1="342.1" y1="885.6" x2="342.1" y2="892.1" stroke="#8c8c8c" stroke-width="1.3"/>
<line x1="472.0" y1="885.6" x2="472.0" y2="892.1" stroke="#8c8c8c" stroke-width="1.3"/>
<line x1="601.9" y1="885.6" x2="601.9" y2="892.1" stroke="#8c8c8c" stroke-width="1.3"/>
<line x1="731.8" y1="885.6" x2="731.8" y2="892.1" stroke="#8c8c8c" stroke-width="1.3"/>
<text class="ser" x="127.6" y="917" font-size="20.5" fill="#000" stroke="#000" stroke-width="0.35" textLength="40" lengthAdjust="spacingAndGlyphs">vWF</text>
<text class="ser" x="236" y="917" font-size="20.5" fill="#000" stroke="#000" stroke-width="0.35" textLength="80" lengthAdjust="spacingAndGlyphs">VEGFR2</text>
<text class="ser" x="381" y="917" font-size="20.5" fill="#000" stroke="#000" stroke-width="0.35" textLength="48.5" lengthAdjust="spacingAndGlyphs">CD31</text>
<text class="ser" x="511.8" y="917" font-size="20.5" fill="#000" stroke="#000" stroke-width="0.35" textLength="49.8" lengthAdjust="spacingAndGlyphs">CD34</text>
<text class="ser" x="641" y="917" font-size="20.5" fill="#000" stroke="#000" stroke-width="0.35" textLength="49.7" lengthAdjust="spacingAndGlyphs">CD45</text>
<rect x="258.4" y="617.9" width="9.6" height="9.6" fill="#fff" stroke="#000" stroke-width="1.3"/>
<text class="ser" x="272.8" y="630.6" font-size="20" fill="#000" stroke="#000" stroke-width="0.35" textLength="35.8" lengthAdjust="spacingAndGlyphs">TCP</text>
<rect x="337" y="617.8" width="11" height="10.8" fill="#6e6e6e"/>
<text class="ser" x="350.9" y="630.6" font-size="20" fill="#000" stroke="#000" stroke-width="0.35" textLength="61.2" lengthAdjust="spacingAndGlyphs">PA-YK</text>
<rect x="438.8" y="617.8" width="10.8" height="10.8" fill="#000"/>
<text class="ser" x="451.3" y="630.6" font-size="20" fill="#000" stroke="#000" stroke-width="0.35" textLength="98.8" lengthAdjust="spacingAndGlyphs">PA-YK-NO</text>
</svg></body></html>
